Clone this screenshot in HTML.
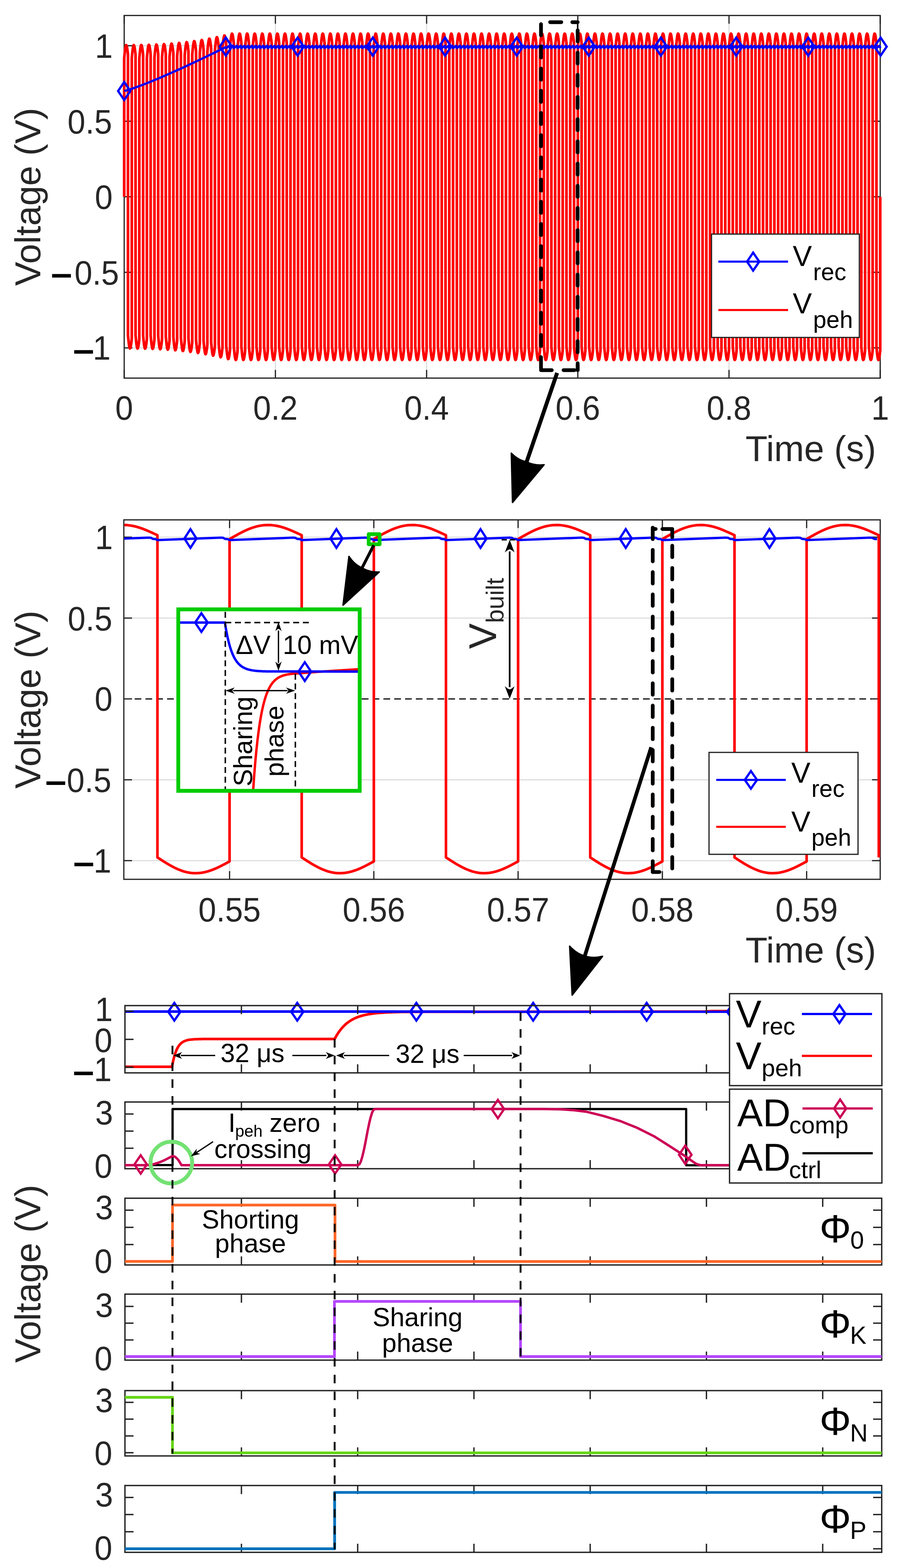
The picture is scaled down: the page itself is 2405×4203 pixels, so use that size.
<!DOCTYPE html><html><head><meta charset="utf-8"><style>html,body{margin:0;padding:0;background:#fff;overflow:hidden;}svg{display:block;}text{font-family:'Liberation Sans', Arial, Helvetica, sans-serif;}</style></head><body>
<svg width="2405" height="4203" viewBox="0 0 2405 4203">
<rect width="2405" height="4203" fill="#fff"/>
<line x1="738.4" y1="41.5" x2="738.4" y2="1013.5" stroke="#dcdcdc" stroke-width="3"/>
<line x1="1143.8" y1="41.5" x2="1143.8" y2="1013.5" stroke="#dcdcdc" stroke-width="3"/>
<line x1="1549.2" y1="41.5" x2="1549.2" y2="1013.5" stroke="#dcdcdc" stroke-width="3"/>
<line x1="1954.6" y1="41.5" x2="1954.6" y2="1013.5" stroke="#dcdcdc" stroke-width="3"/>
<line x1="333" y1="932.5" x2="2360" y2="932.5" stroke="#dcdcdc" stroke-width="3"/>
<line x1="333" y1="730" x2="2360" y2="730" stroke="#dcdcdc" stroke-width="3"/>
<line x1="333" y1="527.5" x2="2360" y2="527.5" stroke="#dcdcdc" stroke-width="3"/>
<line x1="333" y1="325" x2="2360" y2="325" stroke="#dcdcdc" stroke-width="3"/>
<line x1="333" y1="122.5" x2="2360" y2="122.5" stroke="#dcdcdc" stroke-width="3"/>
<rect x="333" y="41.5" width="2027" height="972" fill="none" stroke="#262626" stroke-width="3.3"/>
<line x1="333" y1="1013.5" x2="333" y2="991.5" stroke="#262626" stroke-width="3.3"/>
<line x1="333" y1="41.5" x2="333" y2="63.5" stroke="#262626" stroke-width="3.3"/>
<line x1="738.4" y1="1013.5" x2="738.4" y2="991.5" stroke="#262626" stroke-width="3.3"/>
<line x1="738.4" y1="41.5" x2="738.4" y2="63.5" stroke="#262626" stroke-width="3.3"/>
<line x1="1143.8" y1="1013.5" x2="1143.8" y2="991.5" stroke="#262626" stroke-width="3.3"/>
<line x1="1143.8" y1="41.5" x2="1143.8" y2="63.5" stroke="#262626" stroke-width="3.3"/>
<line x1="1549.2" y1="1013.5" x2="1549.2" y2="991.5" stroke="#262626" stroke-width="3.3"/>
<line x1="1549.2" y1="41.5" x2="1549.2" y2="63.5" stroke="#262626" stroke-width="3.3"/>
<line x1="1954.6" y1="1013.5" x2="1954.6" y2="991.5" stroke="#262626" stroke-width="3.3"/>
<line x1="1954.6" y1="41.5" x2="1954.6" y2="63.5" stroke="#262626" stroke-width="3.3"/>
<line x1="2360" y1="1013.5" x2="2360" y2="991.5" stroke="#262626" stroke-width="3.3"/>
<line x1="2360" y1="41.5" x2="2360" y2="63.5" stroke="#262626" stroke-width="3.3"/>
<line x1="333" y1="932.5" x2="355" y2="932.5" stroke="#262626" stroke-width="3.3"/>
<line x1="2360" y1="932.5" x2="2338" y2="932.5" stroke="#262626" stroke-width="3.3"/>
<line x1="333" y1="730" x2="355" y2="730" stroke="#262626" stroke-width="3.3"/>
<line x1="2360" y1="730" x2="2338" y2="730" stroke="#262626" stroke-width="3.3"/>
<line x1="333" y1="527.5" x2="355" y2="527.5" stroke="#262626" stroke-width="3.3"/>
<line x1="2360" y1="527.5" x2="2338" y2="527.5" stroke="#262626" stroke-width="3.3"/>
<line x1="333" y1="325" x2="355" y2="325" stroke="#262626" stroke-width="3.3"/>
<line x1="2360" y1="325" x2="2338" y2="325" stroke="#262626" stroke-width="3.3"/>
<line x1="333" y1="122.5" x2="355" y2="122.5" stroke="#262626" stroke-width="3.3"/>
<line x1="2360" y1="122.5" x2="2338" y2="122.5" stroke="#262626" stroke-width="3.3"/>
<path d="M333 527.5 L333 156.1 L334.3 143.3 L335.5 132.2 L336.8 124.4 L338.1 120.9 L339.3 122 L340.6 127.3 L341.9 136 L343.1 146.4 L343.1 898.9 L344.4 911.7 L345.7 922.8 L346.9 930.6 L348.2 934.1 L349.5 933 L350.7 927.7 L352 919 L353.3 908.6 L353.3 156 L354.5 143.2 L355.8 132.1 L357.1 124.3 L358.3 120.8 L359.6 121.9 L360.9 127.3 L362.1 135.9 L363.4 146.3 L363.4 899 L364.7 911.9 L365.9 923 L367.2 930.8 L368.5 934.3 L369.7 933.2 L371 927.8 L372.3 919.2 L373.5 908.8 L373.5 155.8 L374.8 143 L376.1 131.9 L377.3 124.1 L378.6 120.6 L379.9 121.7 L381.1 127 L382.4 135.7 L383.7 146.1 L383.7 899.4 L384.9 912.2 L386.2 923.3 L387.5 931.1 L388.7 934.6 L390 933.5 L391.3 928.2 L392.5 919.5 L393.8 909.1 L393.8 155.3 L395.1 142.5 L396.3 131.4 L397.6 123.6 L398.9 120.1 L400.1 121.2 L401.4 126.6 L402.7 135.2 L403.9 145.6 L403.9 900 L405.2 912.8 L406.5 923.9 L407.7 931.7 L409 935.2 L410.3 934.1 L411.5 928.8 L412.8 920.1 L414.1 909.7 L414.1 154.6 L415.3 141.8 L416.6 130.7 L417.9 122.9 L419.1 119.4 L420.4 120.5 L421.7 125.8 L422.9 134.5 L424.2 144.9 L424.2 900.9 L425.5 913.7 L426.7 924.8 L428 932.6 L429.3 936.1 L430.5 935 L431.8 929.6 L433.1 921 L434.4 910.6 L434.4 153.6 L435.6 140.7 L436.9 129.6 L438.2 121.8 L439.4 118.3 L440.7 119.4 L442 124.8 L443.2 133.4 L444.5 143.8 L444.5 902.1 L445.8 914.9 L447 926 L448.3 933.8 L449.6 937.3 L450.8 936.2 L452.1 930.9 L453.4 922.2 L454.6 911.8 L454.6 152.2 L455.9 139.3 L457.2 128.3 L458.4 120.5 L459.7 116.9 L461 118 L462.2 123.4 L463.5 132 L464.8 142.4 L464.8 903.7 L466 916.5 L467.3 927.6 L468.6 935.4 L469.8 938.9 L471.1 937.8 L472.4 932.4 L473.6 923.8 L474.9 913.4 L474.9 150.4 L476.2 137.5 L477.4 126.5 L478.7 118.7 L480 115.1 L481.2 116.2 L482.5 121.6 L483.8 130.3 L485 140.7 L485 905.7 L486.3 918.5 L487.6 929.6 L488.8 937.4 L490.1 940.9 L491.4 939.8 L492.6 934.4 L493.9 925.8 L495.2 915.4 L495.2 148.2 L496.4 135.4 L497.7 124.3 L499 116.5 L500.2 113 L501.5 114.1 L502.8 119.4 L504 128.1 L505.3 138.5 L505.3 908.1 L506.6 920.9 L507.8 932 L509.1 939.8 L510.4 943.3 L511.6 942.2 L512.9 936.8 L514.2 928.2 L515.4 917.8 L515.4 145.6 L516.7 132.7 L518 121.7 L519.2 113.9 L520.5 110.3 L521.8 111.4 L523 116.8 L524.3 125.4 L525.6 135.9 L525.6 910.9 L526.8 923.7 L528.1 934.8 L529.4 942.6 L530.6 946.1 L531.9 945 L533.2 939.7 L534.4 931 L535.7 920.6 L535.7 142.5 L537 129.7 L538.2 118.6 L539.5 110.8 L540.8 107.3 L542 108.4 L543.3 113.7 L544.6 122.4 L545.8 132.8 L545.8 914.2 L547.1 927.1 L548.4 938.1 L549.6 945.9 L550.9 949.5 L552.2 948.4 L553.4 943 L554.7 934.4 L556 924 L556 138.9 L557.2 126.1 L558.5 115 L559.8 107.2 L561 103.7 L562.3 104.8 L563.6 110.2 L564.8 118.8 L566.1 129.2 L566.1 918.1 L567.4 930.9 L568.6 942 L569.9 949.8 L571.2 953.3 L572.4 952.2 L573.7 946.8 L575 938.2 L576.2 927.8 L576.2 134.8 L577.5 122 L578.8 110.9 L580 103.1 L581.3 99.6 L582.6 100.7 L583.8 106.1 L585.1 114.7 L586.4 125.1 L586.4 922.4 L587.6 935.2 L588.9 946.3 L590.2 954.1 L591.4 957.6 L592.7 956.5 L594 951.2 L595.2 942.5 L596.5 932.1 L596.5 130.2 L597.8 117.4 L599 106.3 L600.3 98.5 L601.6 95 L602.8 96.1 L604.1 101.5 L605.4 110.1 L606.6 120.5 L606.6 927.3 L607.9 940.1 L609.2 951.2 L610.4 959 L611.7 962.5 L613 961.4 L614.2 956.1 L615.5 947.4 L616.8 937 L616.8 125.3 L618 112.5 L619.3 101.4 L620.6 93.6 L621.8 90.1 L623.1 91.2 L624.4 96.6 L625.6 105.2 L626.9 115.6 L626.9 929.7 L628.2 942.5 L629.4 953.6 L630.7 961.4 L632 964.9 L633.2 963.8 L634.5 958.4 L635.8 949.8 L637 939.4 L637 125.3 L638.3 112.5 L639.6 101.4 L640.9 93.6 L642.1 90.1 L643.4 91.2 L644.7 96.6 L645.9 105.2 L647.2 115.6 L647.2 929.7 L648.5 942.5 L649.7 953.6 L651 961.4 L652.3 964.9 L653.5 963.8 L654.8 958.4 L656.1 949.8 L657.3 939.4 L657.3 125.3 L658.6 112.5 L659.9 101.4 L661.1 93.6 L662.4 90.1 L663.7 91.2 L664.9 96.6 L666.2 105.2 L667.5 115.6 L667.5 929.7 L668.7 942.5 L670 953.6 L671.3 961.4 L672.5 964.9 L673.8 963.8 L675.1 958.4 L676.3 949.8 L677.6 939.4 L677.6 125.3 L678.9 112.5 L680.1 101.4 L681.4 93.6 L682.7 90.1 L683.9 91.2 L685.2 96.6 L686.5 105.2 L687.7 115.6 L687.7 929.7 L689 942.5 L690.3 953.6 L691.5 961.4 L692.8 964.9 L694.1 963.8 L695.3 958.4 L696.6 949.8 L697.9 939.4 L697.9 125.3 L699.1 112.5 L700.4 101.4 L701.7 93.6 L702.9 90.1 L704.2 91.2 L705.5 96.6 L706.7 105.2 L708 115.6 L708 929.7 L709.3 942.5 L710.5 953.6 L711.8 961.4 L713.1 964.9 L714.3 963.8 L715.6 958.4 L716.9 949.8 L718.1 939.4 L718.1 125.3 L719.4 112.5 L720.7 101.4 L721.9 93.6 L723.2 90.1 L724.5 91.2 L725.7 96.6 L727 105.2 L728.3 115.6 L728.3 929.7 L729.5 942.5 L730.8 953.6 L732.1 961.4 L733.3 964.9 L734.6 963.8 L735.9 958.4 L737.1 949.8 L738.4 939.4 L738.4 125.3 L739.7 112.5 L740.9 101.4 L742.2 93.6 L743.5 90.1 L744.7 91.2 L746 96.6 L747.3 105.2 L748.5 115.6 L748.5 929.7 L749.8 942.5 L751.1 953.6 L752.3 961.4 L753.6 964.9 L754.9 963.8 L756.1 958.4 L757.4 949.8 L758.7 939.4 L758.7 125.3 L759.9 112.5 L761.2 101.4 L762.5 93.6 L763.7 90.1 L765 91.2 L766.3 96.6 L767.5 105.2 L768.8 115.6 L768.8 929.7 L770.1 942.5 L771.3 953.6 L772.6 961.4 L773.9 964.9 L775.1 963.8 L776.4 958.4 L777.7 949.8 L778.9 939.4 L778.9 125.3 L780.2 112.5 L781.5 101.4 L782.7 93.6 L784 90.1 L785.3 91.2 L786.5 96.6 L787.8 105.2 L789.1 115.6 L789.1 929.7 L790.3 942.5 L791.6 953.6 L792.9 961.4 L794.1 964.9 L795.4 963.8 L796.7 958.4 L797.9 949.8 L799.2 939.4 L799.2 125.3 L800.5 112.5 L801.7 101.4 L803 93.6 L804.3 90.1 L805.5 91.2 L806.8 96.6 L808.1 105.2 L809.3 115.6 L809.3 929.7 L810.6 942.5 L811.9 953.6 L813.1 961.4 L814.4 964.9 L815.7 963.8 L816.9 958.4 L818.2 949.8 L819.5 939.4 L819.5 125.3 L820.7 112.5 L822 101.4 L823.3 93.6 L824.5 90.1 L825.8 91.2 L827.1 96.6 L828.3 105.2 L829.6 115.6 L829.6 929.7 L830.9 942.5 L832.1 953.6 L833.4 961.4 L834.7 964.9 L835.9 963.8 L837.2 958.4 L838.5 949.8 L839.8 939.4 L839.8 125.3 L841 112.5 L842.3 101.4 L843.6 93.6 L844.8 90.1 L846.1 91.2 L847.4 96.6 L848.6 105.2 L849.9 115.6 L849.9 929.7 L851.2 942.5 L852.4 953.6 L853.7 961.4 L855 964.9 L856.2 963.8 L857.5 958.4 L858.8 949.8 L860 939.4 L860 125.3 L861.3 112.5 L862.6 101.4 L863.8 93.6 L865.1 90.1 L866.4 91.2 L867.6 96.6 L868.9 105.2 L870.2 115.6 L870.2 929.7 L871.4 942.5 L872.7 953.6 L874 961.4 L875.2 964.9 L876.5 963.8 L877.8 958.4 L879 949.8 L880.3 939.4 L880.3 125.3 L881.6 112.5 L882.8 101.4 L884.1 93.6 L885.4 90.1 L886.6 91.2 L887.9 96.6 L889.2 105.2 L890.4 115.6 L890.4 929.7 L891.7 942.5 L893 953.6 L894.2 961.4 L895.5 964.9 L896.8 963.8 L898 958.4 L899.3 949.8 L900.6 939.4 L900.6 125.3 L901.8 112.5 L903.1 101.4 L904.4 93.6 L905.6 90.1 L906.9 91.2 L908.2 96.6 L909.4 105.2 L910.7 115.6 L910.7 929.7 L912 942.5 L913.2 953.6 L914.5 961.4 L915.8 964.9 L917 963.8 L918.3 958.4 L919.6 949.8 L920.8 939.4 L920.8 125.3 L922.1 112.5 L923.4 101.4 L924.6 93.6 L925.9 90.1 L927.2 91.2 L928.4 96.6 L929.7 105.2 L931 115.6 L931 929.7 L932.2 942.5 L933.5 953.6 L934.8 961.4 L936 964.9 L937.3 963.8 L938.6 958.4 L939.8 949.8 L941.1 939.4 L941.1 125.3 L942.4 112.5 L943.6 101.4 L944.9 93.6 L946.2 90.1 L947.4 91.2 L948.7 96.6 L950 105.2 L951.2 115.6 L951.2 929.7 L952.5 942.5 L953.8 953.6 L955 961.4 L956.3 964.9 L957.6 963.8 L958.8 958.4 L960.1 949.8 L961.4 939.4 L961.4 125.3 L962.6 112.5 L963.9 101.4 L965.2 93.6 L966.4 90.1 L967.7 91.2 L969 96.6 L970.2 105.2 L971.5 115.6 L971.5 929.7 L972.8 942.5 L974 953.6 L975.3 961.4 L976.6 964.9 L977.8 963.8 L979.1 958.4 L980.4 949.8 L981.6 939.4 L981.6 125.3 L982.9 112.5 L984.2 101.4 L985.4 93.6 L986.7 90.1 L988 91.2 L989.2 96.6 L990.5 105.2 L991.8 115.6 L991.8 929.7 L993 942.5 L994.3 953.6 L995.6 961.4 L996.8 964.9 L998.1 963.8 L999.4 958.4 L1000.6 949.8 L1001.9 939.4 L1001.9 125.3 L1003.2 112.5 L1004.4 101.4 L1005.7 93.6 L1007 90.1 L1008.2 91.2 L1009.5 96.6 L1010.8 105.2 L1012 115.6 L1012 929.7 L1013.3 942.5 L1014.6 953.6 L1015.8 961.4 L1017.1 964.9 L1018.4 963.8 L1019.6 958.4 L1020.9 949.8 L1022.2 939.4 L1022.2 125.3 L1023.4 112.5 L1024.7 101.4 L1026 93.6 L1027.2 90.1 L1028.5 91.2 L1029.8 96.6 L1031 105.2 L1032.3 115.6 L1032.3 929.7 L1033.6 942.5 L1034.8 953.6 L1036.1 961.4 L1037.4 964.9 L1038.6 963.8 L1039.9 958.4 L1041.2 949.8 L1042.5 939.4 L1042.5 125.3 L1043.7 112.5 L1045 101.4 L1046.3 93.6 L1047.5 90.1 L1048.8 91.2 L1050.1 96.6 L1051.3 105.2 L1052.6 115.6 L1052.6 929.7 L1053.9 942.5 L1055.1 953.6 L1056.4 961.4 L1057.7 964.9 L1058.9 963.8 L1060.2 958.4 L1061.5 949.8 L1062.7 939.4 L1062.7 125.3 L1064 112.5 L1065.3 101.4 L1066.5 93.6 L1067.8 90.1 L1069.1 91.2 L1070.3 96.6 L1071.6 105.2 L1072.9 115.6 L1072.9 929.7 L1074.1 942.5 L1075.4 953.6 L1076.7 961.4 L1077.9 964.9 L1079.2 963.8 L1080.5 958.4 L1081.7 949.8 L1083 939.4 L1083 125.3 L1084.3 112.5 L1085.5 101.4 L1086.8 93.6 L1088.1 90.1 L1089.3 91.2 L1090.6 96.6 L1091.9 105.2 L1093.1 115.6 L1093.1 929.7 L1094.4 942.5 L1095.7 953.6 L1096.9 961.4 L1098.2 964.9 L1099.5 963.8 L1100.7 958.4 L1102 949.8 L1103.3 939.4 L1103.3 125.3 L1104.5 112.5 L1105.8 101.4 L1107.1 93.6 L1108.3 90.1 L1109.6 91.2 L1110.9 96.6 L1112.1 105.2 L1113.4 115.6 L1113.4 929.7 L1114.7 942.5 L1115.9 953.6 L1117.2 961.4 L1118.5 964.9 L1119.7 963.8 L1121 958.4 L1122.3 949.8 L1123.5 939.4 L1123.5 125.3 L1124.8 112.5 L1126.1 101.4 L1127.3 93.6 L1128.6 90.1 L1129.9 91.2 L1131.1 96.6 L1132.4 105.2 L1133.7 115.6 L1133.7 929.7 L1134.9 942.5 L1136.2 953.6 L1137.5 961.4 L1138.7 964.9 L1140 963.8 L1141.3 958.4 L1142.5 949.8 L1143.8 939.4 L1143.8 125.3 L1145.1 112.5 L1146.3 101.4 L1147.6 93.6 L1148.9 90.1 L1150.1 91.2 L1151.4 96.6 L1152.7 105.2 L1153.9 115.6 L1153.9 929.7 L1155.2 942.5 L1156.5 953.6 L1157.7 961.4 L1159 964.9 L1160.3 963.8 L1161.5 958.4 L1162.8 949.8 L1164.1 939.4 L1164.1 125.3 L1165.3 112.5 L1166.6 101.4 L1167.9 93.6 L1169.1 90.1 L1170.4 91.2 L1171.7 96.6 L1172.9 105.2 L1174.2 115.6 L1174.2 929.7 L1175.5 942.5 L1176.7 953.6 L1178 961.4 L1179.3 964.9 L1180.5 963.8 L1181.8 958.4 L1183.1 949.8 L1184.3 939.4 L1184.3 125.3 L1185.6 112.5 L1186.9 101.4 L1188.1 93.6 L1189.4 90.1 L1190.7 91.2 L1191.9 96.6 L1193.2 105.2 L1194.5 115.6 L1194.5 929.7 L1195.7 942.5 L1197 953.6 L1198.3 961.4 L1199.5 964.9 L1200.8 963.8 L1202.1 958.4 L1203.3 949.8 L1204.6 939.4 L1204.6 125.3 L1205.9 112.5 L1207.1 101.4 L1208.4 93.6 L1209.7 90.1 L1210.9 91.2 L1212.2 96.6 L1213.5 105.2 L1214.7 115.6 L1214.7 929.7 L1216 942.5 L1217.3 953.6 L1218.5 961.4 L1219.8 964.9 L1221.1 963.8 L1222.3 958.4 L1223.6 949.8 L1224.9 939.4 L1224.9 125.3 L1226.1 112.5 L1227.4 101.4 L1228.7 93.6 L1229.9 90.1 L1231.2 91.2 L1232.5 96.6 L1233.7 105.2 L1235 115.6 L1235 929.7 L1236.3 942.5 L1237.5 953.6 L1238.8 961.4 L1240.1 964.9 L1241.3 963.8 L1242.6 958.4 L1243.9 949.8 L1245.2 939.4 L1245.2 125.3 L1246.4 112.5 L1247.7 101.4 L1249 93.6 L1250.2 90.1 L1251.5 91.2 L1252.8 96.6 L1254 105.2 L1255.3 115.6 L1255.3 929.7 L1256.6 942.5 L1257.8 953.6 L1259.1 961.4 L1260.4 964.9 L1261.6 963.8 L1262.9 958.4 L1264.2 949.8 L1265.4 939.4 L1265.4 125.3 L1266.7 112.5 L1268 101.4 L1269.2 93.6 L1270.5 90.1 L1271.8 91.2 L1273 96.6 L1274.3 105.2 L1275.6 115.6 L1275.6 929.7 L1276.8 942.5 L1278.1 953.6 L1279.4 961.4 L1280.6 964.9 L1281.9 963.8 L1283.2 958.4 L1284.4 949.8 L1285.7 939.4 L1285.7 125.3 L1287 112.5 L1288.2 101.4 L1289.5 93.6 L1290.8 90.1 L1292 91.2 L1293.3 96.6 L1294.6 105.2 L1295.8 115.6 L1295.8 929.7 L1297.1 942.5 L1298.4 953.6 L1299.6 961.4 L1300.9 964.9 L1302.2 963.8 L1303.4 958.4 L1304.7 949.8 L1306 939.4 L1306 125.3 L1307.2 112.5 L1308.5 101.4 L1309.8 93.6 L1311 90.1 L1312.3 91.2 L1313.6 96.6 L1314.8 105.2 L1316.1 115.6 L1316.1 929.7 L1317.4 942.5 L1318.6 953.6 L1319.9 961.4 L1321.2 964.9 L1322.4 963.8 L1323.7 958.4 L1325 949.8 L1326.2 939.4 L1326.2 125.3 L1327.5 112.5 L1328.8 101.4 L1330 93.6 L1331.3 90.1 L1332.6 91.2 L1333.8 96.6 L1335.1 105.2 L1336.4 115.6 L1336.4 929.7 L1337.6 942.5 L1338.9 953.6 L1340.2 961.4 L1341.4 964.9 L1342.7 963.8 L1344 958.4 L1345.2 949.8 L1346.5 939.4 L1346.5 125.3 L1347.8 112.5 L1349 101.4 L1350.3 93.6 L1351.6 90.1 L1352.8 91.2 L1354.1 96.6 L1355.4 105.2 L1356.6 115.6 L1356.6 929.7 L1357.9 942.5 L1359.2 953.6 L1360.4 961.4 L1361.7 964.9 L1363 963.8 L1364.2 958.4 L1365.5 949.8 L1366.8 939.4 L1366.8 125.3 L1368 112.5 L1369.3 101.4 L1370.6 93.6 L1371.8 90.1 L1373.1 91.2 L1374.4 96.6 L1375.6 105.2 L1376.9 115.6 L1376.9 929.7 L1378.2 942.5 L1379.4 953.6 L1380.7 961.4 L1382 964.9 L1383.2 963.8 L1384.5 958.4 L1385.8 949.8 L1387 939.4 L1387 125.3 L1388.3 112.5 L1389.6 101.4 L1390.8 93.6 L1392.1 90.1 L1393.4 91.2 L1394.6 96.6 L1395.9 105.2 L1397.2 115.6 L1397.2 929.7 L1398.4 942.5 L1399.7 953.6 L1401 961.4 L1402.2 964.9 L1403.5 963.8 L1404.8 958.4 L1406 949.8 L1407.3 939.4 L1407.3 125.3 L1408.6 112.5 L1409.8 101.4 L1411.1 93.6 L1412.4 90.1 L1413.6 91.2 L1414.9 96.6 L1416.2 105.2 L1417.4 115.6 L1417.4 929.7 L1418.7 942.5 L1420 953.6 L1421.2 961.4 L1422.5 964.9 L1423.8 963.8 L1425 958.4 L1426.3 949.8 L1427.6 939.4 L1427.6 125.3 L1428.8 112.5 L1430.1 101.4 L1431.4 93.6 L1432.6 90.1 L1433.9 91.2 L1435.2 96.6 L1436.4 105.2 L1437.7 115.6 L1437.7 929.7 L1439 942.5 L1440.2 953.6 L1441.5 961.4 L1442.8 964.9 L1444 963.8 L1445.3 958.4 L1446.6 949.8 L1447.9 939.4 L1447.9 125.3 L1449.1 112.5 L1450.4 101.4 L1451.7 93.6 L1452.9 90.1 L1454.2 91.2 L1455.5 96.6 L1456.7 105.2 L1458 115.6 L1458 929.7 L1459.3 942.5 L1460.5 953.6 L1461.8 961.4 L1463.1 964.9 L1464.3 963.8 L1465.6 958.4 L1466.9 949.8 L1468.1 939.4 L1468.1 125.3 L1469.4 112.5 L1470.7 101.4 L1471.9 93.6 L1473.2 90.1 L1474.5 91.2 L1475.7 96.6 L1477 105.2 L1478.3 115.6 L1478.3 929.7 L1479.5 942.5 L1480.8 953.6 L1482.1 961.4 L1483.3 964.9 L1484.6 963.8 L1485.9 958.4 L1487.1 949.8 L1488.4 939.4 L1488.4 125.3 L1489.7 112.5 L1490.9 101.4 L1492.2 93.6 L1493.5 90.1 L1494.7 91.2 L1496 96.6 L1497.3 105.2 L1498.5 115.6 L1498.5 929.7 L1499.8 942.5 L1501.1 953.6 L1502.3 961.4 L1503.6 964.9 L1504.9 963.8 L1506.1 958.4 L1507.4 949.8 L1508.7 939.4 L1508.7 125.3 L1509.9 112.5 L1511.2 101.4 L1512.5 93.6 L1513.7 90.1 L1515 91.2 L1516.3 96.6 L1517.5 105.2 L1518.8 115.6 L1518.8 929.7 L1520.1 942.5 L1521.3 953.6 L1522.6 961.4 L1523.9 964.9 L1525.1 963.8 L1526.4 958.4 L1527.7 949.8 L1528.9 939.4 L1528.9 125.3 L1530.2 112.5 L1531.5 101.4 L1532.7 93.6 L1534 90.1 L1535.3 91.2 L1536.5 96.6 L1537.8 105.2 L1539.1 115.6 L1539.1 929.7 L1540.3 942.5 L1541.6 953.6 L1542.9 961.4 L1544.1 964.9 L1545.4 963.8 L1546.7 958.4 L1547.9 949.8 L1549.2 939.4 L1549.2 125.3 L1550.5 112.5 L1551.7 101.4 L1553 93.6 L1554.3 90.1 L1555.5 91.2 L1556.8 96.6 L1558.1 105.2 L1559.3 115.6 L1559.3 929.7 L1560.6 942.5 L1561.9 953.6 L1563.1 961.4 L1564.4 964.9 L1565.7 963.8 L1566.9 958.4 L1568.2 949.8 L1569.5 939.4 L1569.5 125.3 L1570.7 112.5 L1572 101.4 L1573.3 93.6 L1574.5 90.1 L1575.8 91.2 L1577.1 96.6 L1578.3 105.2 L1579.6 115.6 L1579.6 929.7 L1580.9 942.5 L1582.1 953.6 L1583.4 961.4 L1584.7 964.9 L1585.9 963.8 L1587.2 958.4 L1588.5 949.8 L1589.7 939.4 L1589.7 125.3 L1591 112.5 L1592.3 101.4 L1593.5 93.6 L1594.8 90.1 L1596.1 91.2 L1597.3 96.6 L1598.6 105.2 L1599.9 115.6 L1599.9 929.7 L1601.1 942.5 L1602.4 953.6 L1603.7 961.4 L1604.9 964.9 L1606.2 963.8 L1607.5 958.4 L1608.7 949.8 L1610 939.4 L1610 125.3 L1611.3 112.5 L1612.5 101.4 L1613.8 93.6 L1615.1 90.1 L1616.3 91.2 L1617.6 96.6 L1618.9 105.2 L1620.1 115.6 L1620.1 929.7 L1621.4 942.5 L1622.7 953.6 L1623.9 961.4 L1625.2 964.9 L1626.5 963.8 L1627.7 958.4 L1629 949.8 L1630.3 939.4 L1630.3 125.3 L1631.5 112.5 L1632.8 101.4 L1634.1 93.6 L1635.3 90.1 L1636.6 91.2 L1637.9 96.6 L1639.1 105.2 L1640.4 115.6 L1640.4 929.7 L1641.7 942.5 L1642.9 953.6 L1644.2 961.4 L1645.5 964.9 L1646.7 963.8 L1648 958.4 L1649.3 949.8 L1650.5 939.4 L1650.5 125.3 L1651.8 112.5 L1653.1 101.4 L1654.4 93.6 L1655.6 90.1 L1656.9 91.2 L1658.2 96.6 L1659.4 105.2 L1660.7 115.6 L1660.7 929.7 L1662 942.5 L1663.2 953.6 L1664.5 961.4 L1665.8 964.9 L1667 963.8 L1668.3 958.4 L1669.6 949.8 L1670.8 939.4 L1670.8 125.3 L1672.1 112.5 L1673.4 101.4 L1674.6 93.6 L1675.9 90.1 L1677.2 91.2 L1678.4 96.6 L1679.7 105.2 L1681 115.6 L1681 929.7 L1682.2 942.5 L1683.5 953.6 L1684.8 961.4 L1686 964.9 L1687.3 963.8 L1688.6 958.4 L1689.8 949.8 L1691.1 939.4 L1691.1 125.3 L1692.4 112.5 L1693.6 101.4 L1694.9 93.6 L1696.2 90.1 L1697.4 91.2 L1698.7 96.6 L1700 105.2 L1701.2 115.6 L1701.2 929.7 L1702.5 942.5 L1703.8 953.6 L1705 961.4 L1706.3 964.9 L1707.6 963.8 L1708.8 958.4 L1710.1 949.8 L1711.4 939.4 L1711.4 125.3 L1712.6 112.5 L1713.9 101.4 L1715.2 93.6 L1716.4 90.1 L1717.7 91.2 L1719 96.6 L1720.2 105.2 L1721.5 115.6 L1721.5 929.7 L1722.8 942.5 L1724 953.6 L1725.3 961.4 L1726.6 964.9 L1727.8 963.8 L1729.1 958.4 L1730.4 949.8 L1731.6 939.4 L1731.6 125.3 L1732.9 112.5 L1734.2 101.4 L1735.4 93.6 L1736.7 90.1 L1738 91.2 L1739.2 96.6 L1740.5 105.2 L1741.8 115.6 L1741.8 929.7 L1743 942.5 L1744.3 953.6 L1745.6 961.4 L1746.8 964.9 L1748.1 963.8 L1749.4 958.4 L1750.6 949.8 L1751.9 939.4 L1751.9 125.3 L1753.2 112.5 L1754.4 101.4 L1755.7 93.6 L1757 90.1 L1758.2 91.2 L1759.5 96.6 L1760.8 105.2 L1762 115.6 L1762 929.7 L1763.3 942.5 L1764.6 953.6 L1765.8 961.4 L1767.1 964.9 L1768.4 963.8 L1769.6 958.4 L1770.9 949.8 L1772.2 939.4 L1772.2 125.3 L1773.4 112.5 L1774.7 101.4 L1776 93.6 L1777.2 90.1 L1778.5 91.2 L1779.8 96.6 L1781 105.2 L1782.3 115.6 L1782.3 929.7 L1783.6 942.5 L1784.8 953.6 L1786.1 961.4 L1787.4 964.9 L1788.6 963.8 L1789.9 958.4 L1791.2 949.8 L1792.4 939.4 L1792.4 125.3 L1793.7 112.5 L1795 101.4 L1796.2 93.6 L1797.5 90.1 L1798.8 91.2 L1800 96.6 L1801.3 105.2 L1802.6 115.6 L1802.6 929.7 L1803.8 942.5 L1805.1 953.6 L1806.4 961.4 L1807.6 964.9 L1808.9 963.8 L1810.2 958.4 L1811.4 949.8 L1812.7 939.4 L1812.7 125.3 L1814 112.5 L1815.2 101.4 L1816.5 93.6 L1817.8 90.1 L1819 91.2 L1820.3 96.6 L1821.6 105.2 L1822.8 115.6 L1822.8 929.7 L1824.1 942.5 L1825.4 953.6 L1826.6 961.4 L1827.9 964.9 L1829.2 963.8 L1830.4 958.4 L1831.7 949.8 L1833 939.4 L1833 125.3 L1834.2 112.5 L1835.5 101.4 L1836.8 93.6 L1838 90.1 L1839.3 91.2 L1840.6 96.6 L1841.8 105.2 L1843.1 115.6 L1843.1 929.7 L1844.4 942.5 L1845.6 953.6 L1846.9 961.4 L1848.2 964.9 L1849.4 963.8 L1850.7 958.4 L1852 949.8 L1853.2 939.4 L1853.2 125.3 L1854.5 112.5 L1855.8 101.4 L1857.1 93.6 L1858.3 90.1 L1859.6 91.2 L1860.9 96.6 L1862.1 105.2 L1863.4 115.6 L1863.4 929.7 L1864.7 942.5 L1865.9 953.6 L1867.2 961.4 L1868.5 964.9 L1869.7 963.8 L1871 958.4 L1872.3 949.8 L1873.5 939.4 L1873.5 125.3 L1874.8 112.5 L1876.1 101.4 L1877.3 93.6 L1878.6 90.1 L1879.9 91.2 L1881.1 96.6 L1882.4 105.2 L1883.7 115.6 L1883.7 929.7 L1884.9 942.5 L1886.2 953.6 L1887.5 961.4 L1888.7 964.9 L1890 963.8 L1891.3 958.4 L1892.5 949.8 L1893.8 939.4 L1893.8 125.3 L1895.1 112.5 L1896.3 101.4 L1897.6 93.6 L1898.9 90.1 L1900.1 91.2 L1901.4 96.6 L1902.7 105.2 L1903.9 115.6 L1903.9 929.7 L1905.2 942.5 L1906.5 953.6 L1907.7 961.4 L1909 964.9 L1910.3 963.8 L1911.5 958.4 L1912.8 949.8 L1914.1 939.4 L1914.1 125.3 L1915.3 112.5 L1916.6 101.4 L1917.9 93.6 L1919.1 90.1 L1920.4 91.2 L1921.7 96.6 L1922.9 105.2 L1924.2 115.6 L1924.2 929.7 L1925.5 942.5 L1926.7 953.6 L1928 961.4 L1929.3 964.9 L1930.5 963.8 L1931.8 958.4 L1933.1 949.8 L1934.3 939.4 L1934.3 125.3 L1935.6 112.5 L1936.9 101.4 L1938.1 93.6 L1939.4 90.1 L1940.7 91.2 L1941.9 96.6 L1943.2 105.2 L1944.5 115.6 L1944.5 929.7 L1945.7 942.5 L1947 953.6 L1948.3 961.4 L1949.5 964.9 L1950.8 963.8 L1952.1 958.4 L1953.3 949.8 L1954.6 939.4 L1954.6 125.3 L1955.9 112.5 L1957.1 101.4 L1958.4 93.6 L1959.7 90.1 L1960.9 91.2 L1962.2 96.6 L1963.5 105.2 L1964.7 115.6 L1964.7 929.7 L1966 942.5 L1967.3 953.6 L1968.5 961.4 L1969.8 964.9 L1971.1 963.8 L1972.3 958.4 L1973.6 949.8 L1974.9 939.4 L1974.9 125.3 L1976.1 112.5 L1977.4 101.4 L1978.7 93.6 L1979.9 90.1 L1981.2 91.2 L1982.5 96.6 L1983.7 105.2 L1985 115.6 L1985 929.7 L1986.3 942.5 L1987.5 953.6 L1988.8 961.4 L1990.1 964.9 L1991.3 963.8 L1992.6 958.4 L1993.9 949.8 L1995.1 939.4 L1995.1 125.3 L1996.4 112.5 L1997.7 101.4 L1998.9 93.6 L2000.2 90.1 L2001.5 91.2 L2002.7 96.6 L2004 105.2 L2005.3 115.6 L2005.3 929.7 L2006.5 942.5 L2007.8 953.6 L2009.1 961.4 L2010.3 964.9 L2011.6 963.8 L2012.9 958.4 L2014.1 949.8 L2015.4 939.4 L2015.4 125.3 L2016.7 112.5 L2017.9 101.4 L2019.2 93.6 L2020.5 90.1 L2021.7 91.2 L2023 96.6 L2024.3 105.2 L2025.5 115.6 L2025.5 929.7 L2026.8 942.5 L2028.1 953.6 L2029.3 961.4 L2030.6 964.9 L2031.9 963.8 L2033.1 958.4 L2034.4 949.8 L2035.7 939.4 L2035.7 125.3 L2036.9 112.5 L2038.2 101.4 L2039.5 93.6 L2040.7 90.1 L2042 91.2 L2043.3 96.6 L2044.5 105.2 L2045.8 115.6 L2045.8 929.7 L2047.1 942.5 L2048.3 953.6 L2049.6 961.4 L2050.9 964.9 L2052.1 963.8 L2053.4 958.4 L2054.7 949.8 L2055.9 939.4 L2055.9 125.3 L2057.2 112.5 L2058.5 101.4 L2059.8 93.6 L2061 90.1 L2062.3 91.2 L2063.6 96.6 L2064.8 105.2 L2066.1 115.6 L2066.1 929.7 L2067.4 942.5 L2068.6 953.6 L2069.9 961.4 L2071.2 964.9 L2072.4 963.8 L2073.7 958.4 L2075 949.8 L2076.2 939.4 L2076.2 125.3 L2077.5 112.5 L2078.8 101.4 L2080 93.6 L2081.3 90.1 L2082.6 91.2 L2083.8 96.6 L2085.1 105.2 L2086.4 115.6 L2086.4 929.7 L2087.6 942.5 L2088.9 953.6 L2090.2 961.4 L2091.4 964.9 L2092.7 963.8 L2094 958.4 L2095.2 949.8 L2096.5 939.4 L2096.5 125.3 L2097.8 112.5 L2099 101.4 L2100.3 93.6 L2101.6 90.1 L2102.8 91.2 L2104.1 96.6 L2105.4 105.2 L2106.6 115.6 L2106.6 929.7 L2107.9 942.5 L2109.2 953.6 L2110.4 961.4 L2111.7 964.9 L2113 963.8 L2114.2 958.4 L2115.5 949.8 L2116.8 939.4 L2116.8 125.3 L2118 112.5 L2119.3 101.4 L2120.6 93.6 L2121.8 90.1 L2123.1 91.2 L2124.4 96.6 L2125.6 105.2 L2126.9 115.6 L2126.9 929.7 L2128.2 942.5 L2129.4 953.6 L2130.7 961.4 L2132 964.9 L2133.2 963.8 L2134.5 958.4 L2135.8 949.8 L2137 939.4 L2137 125.3 L2138.3 112.5 L2139.6 101.4 L2140.8 93.6 L2142.1 90.1 L2143.4 91.2 L2144.6 96.6 L2145.9 105.2 L2147.2 115.6 L2147.2 929.7 L2148.4 942.5 L2149.7 953.6 L2151 961.4 L2152.2 964.9 L2153.5 963.8 L2154.8 958.4 L2156 949.8 L2157.3 939.4 L2157.3 125.3 L2158.6 112.5 L2159.8 101.4 L2161.1 93.6 L2162.4 90.1 L2163.6 91.2 L2164.9 96.6 L2166.2 105.2 L2167.4 115.6 L2167.4 929.7 L2168.7 942.5 L2170 953.6 L2171.2 961.4 L2172.5 964.9 L2173.8 963.8 L2175 958.4 L2176.3 949.8 L2177.6 939.4 L2177.6 125.3 L2178.8 112.5 L2180.1 101.4 L2181.4 93.6 L2182.6 90.1 L2183.9 91.2 L2185.2 96.6 L2186.4 105.2 L2187.7 115.6 L2187.7 929.7 L2189 942.5 L2190.2 953.6 L2191.5 961.4 L2192.8 964.9 L2194 963.8 L2195.3 958.4 L2196.6 949.8 L2197.8 939.4 L2197.8 125.3 L2199.1 112.5 L2200.4 101.4 L2201.6 93.6 L2202.9 90.1 L2204.2 91.2 L2205.4 96.6 L2206.7 105.2 L2208 115.6 L2208 929.7 L2209.2 942.5 L2210.5 953.6 L2211.8 961.4 L2213 964.9 L2214.3 963.8 L2215.6 958.4 L2216.8 949.8 L2218.1 939.4 L2218.1 125.3 L2219.4 112.5 L2220.6 101.4 L2221.9 93.6 L2223.2 90.1 L2224.4 91.2 L2225.7 96.6 L2227 105.2 L2228.2 115.6 L2228.2 929.7 L2229.5 942.5 L2230.8 953.6 L2232 961.4 L2233.3 964.9 L2234.6 963.8 L2235.8 958.4 L2237.1 949.8 L2238.4 939.4 L2238.4 125.3 L2239.6 112.5 L2240.9 101.4 L2242.2 93.6 L2243.4 90.1 L2244.7 91.2 L2246 96.6 L2247.2 105.2 L2248.5 115.6 L2248.5 929.7 L2249.8 942.5 L2251 953.6 L2252.3 961.4 L2253.6 964.9 L2254.8 963.8 L2256.1 958.4 L2257.4 949.8 L2258.7 939.4 L2258.7 125.3 L2259.9 112.5 L2261.2 101.4 L2262.5 93.6 L2263.7 90.1 L2265 91.2 L2266.3 96.6 L2267.5 105.2 L2268.8 115.6 L2268.8 929.7 L2270.1 942.5 L2271.3 953.6 L2272.6 961.4 L2273.9 964.9 L2275.1 963.8 L2276.4 958.4 L2277.7 949.8 L2278.9 939.4 L2278.9 125.3 L2280.2 112.5 L2281.5 101.4 L2282.7 93.6 L2284 90.1 L2285.3 91.2 L2286.5 96.6 L2287.8 105.2 L2289.1 115.6 L2289.1 929.7 L2290.3 942.5 L2291.6 953.6 L2292.9 961.4 L2294.1 964.9 L2295.4 963.8 L2296.7 958.4 L2297.9 949.8 L2299.2 939.4 L2299.2 125.3 L2300.5 112.5 L2301.7 101.4 L2303 93.6 L2304.3 90.1 L2305.5 91.2 L2306.8 96.6 L2308.1 105.2 L2309.3 115.6 L2309.3 929.7 L2310.6 942.5 L2311.9 953.6 L2313.1 961.4 L2314.4 964.9 L2315.7 963.8 L2316.9 958.4 L2318.2 949.8 L2319.5 939.4 L2319.5 125.3 L2320.7 112.5 L2322 101.4 L2323.3 93.6 L2324.5 90.1 L2325.8 91.2 L2327.1 96.6 L2328.3 105.2 L2329.6 115.6 L2329.6 929.7 L2330.9 942.5 L2332.1 953.6 L2333.4 961.4 L2334.7 964.9 L2335.9 963.8 L2337.2 958.4 L2338.5 949.8 L2339.7 939.4 L2339.7 125.3 L2341 112.5 L2342.3 101.4 L2343.5 93.6 L2344.8 90.1 L2346.1 91.2 L2347.3 96.6 L2348.6 105.2 L2349.9 115.6 L2349.9 929.7 L2351.1 942.5 L2352.4 953.6 L2353.7 961.4 L2354.9 964.9 L2356.2 963.8 L2357.5 958.4 L2358.7 949.8 L2360 939.4 L2360 527.5" fill="none" stroke="#ff0000" stroke-width="7.2" stroke-linejoin="round"/>
<path d="M333 244 L346.6 240.3 L360.2 235.7 L373.7 230.7 L387.3 225.5 L400.9 220.2 L414.5 214.6 L428.1 208.9 L441.6 203.1 L455.2 197.1 L468.8 191.1 L482.4 184.9 L496 178.7 L509.6 172.4 L523.1 166.1 L536.7 159.6 L550.3 153.1 L563.9 146.6 L577.5 140 L591 133.3 L604.6 126.6 L606.6 129 L615.2 122.5 L616.2 125.7 L616.8 129 L625.3 122.5 L626.3 125.7 L626.9 129 L635.4 122.5 L636.4 125.7 L637 129 L645.6 122.5 L646.6 125.7 L647.2 129 L655.7 122.5 L656.7 125.7 L657.3 129 L665.8 122.5 L666.8 125.7 L667.5 129 L676 122.5 L677 125.7 L677.6 129 L686.1 122.5 L687.1 125.7 L687.7 129 L696.2 122.5 L697.3 125.7 L697.9 129 L706.4 122.5 L707.4 125.7 L708 129 L716.5 122.5 L717.5 125.7 L718.1 129 L726.6 122.5 L727.7 125.7 L728.3 129 L736.8 122.5 L737.8 125.7 L738.4 129 L746.9 122.5 L747.9 125.7 L748.5 129 L757 122.5 L758.1 125.7 L758.7 129 L767.2 122.5 L768.2 125.7 L768.8 129 L777.3 122.5 L778.3 125.7 L778.9 129 L787.5 122.5 L788.5 125.7 L789.1 129 L797.6 122.5 L798.6 125.7 L799.2 129 L807.7 122.5 L808.7 125.7 L809.3 129 L817.9 122.5 L818.9 125.7 L819.5 129 L828 122.5 L829 125.7 L829.6 129 L838.1 122.5 L839.1 125.7 L839.8 129 L848.3 122.5 L849.3 125.7 L849.9 129 L858.4 122.5 L859.4 125.7 L860 129 L868.5 122.5 L869.5 125.7 L870.2 129 L878.7 122.5 L879.7 125.7 L880.3 129 L888.8 122.5 L889.8 125.7 L890.4 129 L898.9 122.5 L900 125.7 L900.6 129 L909.1 122.5 L910.1 125.7 L910.7 129 L919.2 122.5 L920.2 125.7 L920.8 129 L929.3 122.5 L930.4 125.7 L931 129 L939.5 122.5 L940.5 125.7 L941.1 129 L949.6 122.5 L950.6 125.7 L951.2 129 L959.7 122.5 L960.8 125.7 L961.4 129 L969.9 122.5 L970.9 125.7 L971.5 129 L980 122.5 L981 125.7 L981.6 129 L990.2 122.5 L991.2 125.7 L991.8 129 L1000.3 122.5 L1001.3 125.7 L1001.9 129 L1010.4 122.5 L1011.4 125.7 L1012 129 L1020.6 122.5 L1021.6 125.7 L1022.2 129 L1030.7 122.5 L1031.7 125.7 L1032.3 129 L1040.8 122.5 L1041.8 125.7 L1042.5 129 L1051 122.5 L1052 125.7 L1052.6 129 L1061.1 122.5 L1062.1 125.7 L1062.7 129 L1071.2 122.5 L1072.2 125.7 L1072.9 129 L1081.4 122.5 L1082.4 125.7 L1083 129 L1091.5 122.5 L1092.5 125.7 L1093.1 129 L1101.6 122.5 L1102.7 125.7 L1103.3 129 L1111.8 122.5 L1112.8 125.7 L1113.4 129 L1121.9 122.5 L1122.9 125.7 L1123.5 129 L1132 122.5 L1133.1 125.7 L1133.7 129 L1142.2 122.5 L1143.2 125.7 L1143.8 129 L1152.3 122.5 L1153.3 125.7 L1153.9 129 L1162.4 122.5 L1163.5 125.7 L1164.1 129 L1172.6 122.5 L1173.6 125.7 L1174.2 129 L1182.7 122.5 L1183.7 125.7 L1184.3 129 L1192.9 122.5 L1193.9 125.7 L1194.5 129 L1203 122.5 L1204 125.7 L1204.6 129 L1213.1 122.5 L1214.1 125.7 L1214.7 129 L1223.3 122.5 L1224.3 125.7 L1224.9 129 L1233.4 122.5 L1234.4 125.7 L1235 129 L1243.5 122.5 L1244.5 125.7 L1245.2 129 L1253.7 122.5 L1254.7 125.7 L1255.3 129 L1263.8 122.5 L1264.8 125.7 L1265.4 129 L1273.9 122.5 L1274.9 125.7 L1275.6 129 L1284.1 122.5 L1285.1 125.7 L1285.7 129 L1294.2 122.5 L1295.2 125.7 L1295.8 129 L1304.3 122.5 L1305.4 125.7 L1306 129 L1314.5 122.5 L1315.5 125.7 L1316.1 129 L1324.6 122.5 L1325.6 125.7 L1326.2 129 L1334.7 122.5 L1335.8 125.7 L1336.4 129 L1344.9 122.5 L1345.9 125.7 L1346.5 129 L1355 122.5 L1356 125.7 L1356.6 129 L1365.1 122.5 L1366.2 125.7 L1366.8 129 L1375.3 122.5 L1376.3 125.7 L1376.9 129 L1385.4 122.5 L1386.4 125.7 L1387 129 L1395.6 122.5 L1396.6 125.7 L1397.2 129 L1405.7 122.5 L1406.7 125.7 L1407.3 129 L1415.8 122.5 L1416.8 125.7 L1417.4 129 L1426 122.5 L1427 125.7 L1427.6 129 L1436.1 122.5 L1437.1 125.7 L1437.7 129 L1446.2 122.5 L1447.2 125.7 L1447.9 129 L1456.4 122.5 L1457.4 125.7 L1458 129 L1466.5 122.5 L1467.5 125.7 L1468.1 129 L1476.6 122.5 L1477.6 125.7 L1478.3 129 L1486.8 122.5 L1487.8 125.7 L1488.4 129 L1496.9 122.5 L1497.9 125.7 L1498.5 129 L1507 122.5 L1508.1 125.7 L1508.7 129 L1517.2 122.5 L1518.2 125.7 L1518.8 129 L1527.3 122.5 L1528.3 125.7 L1528.9 129 L1537.4 122.5 L1538.5 125.7 L1539.1 129 L1547.6 122.5 L1548.6 125.7 L1549.2 129 L1557.7 122.5 L1558.7 125.7 L1559.3 129 L1567.8 122.5 L1568.9 125.7 L1569.5 129 L1578 122.5 L1579 125.7 L1579.6 129 L1588.1 122.5 L1589.1 125.7 L1589.7 129 L1598.3 122.5 L1599.3 125.7 L1599.9 129 L1608.4 122.5 L1609.4 125.7 L1610 129 L1618.5 122.5 L1619.5 125.7 L1620.1 129 L1628.7 122.5 L1629.7 125.7 L1630.3 129 L1638.8 122.5 L1639.8 125.7 L1640.4 129 L1648.9 122.5 L1649.9 125.7 L1650.5 129 L1659.1 122.5 L1660.1 125.7 L1660.7 129 L1669.2 122.5 L1670.2 125.7 L1670.8 129 L1679.3 122.5 L1680.3 125.7 L1681 129 L1689.5 122.5 L1690.5 125.7 L1691.1 129 L1699.6 122.5 L1700.6 125.7 L1701.2 129 L1709.7 122.5 L1710.8 125.7 L1711.4 129 L1719.9 122.5 L1720.9 125.7 L1721.5 129 L1730 122.5 L1731 125.7 L1731.6 129 L1740.1 122.5 L1741.2 125.7 L1741.8 129 L1750.3 122.5 L1751.3 125.7 L1751.9 129 L1760.4 122.5 L1761.4 125.7 L1762 129 L1770.5 122.5 L1771.6 125.7 L1772.2 129 L1780.7 122.5 L1781.7 125.7 L1782.3 129 L1790.8 122.5 L1791.8 125.7 L1792.4 129 L1801 122.5 L1802 125.7 L1802.6 129 L1811.1 122.5 L1812.1 125.7 L1812.7 129 L1821.2 122.5 L1822.2 125.7 L1822.8 129 L1831.4 122.5 L1832.4 125.7 L1833 129 L1841.5 122.5 L1842.5 125.7 L1843.1 129 L1851.6 122.5 L1852.6 125.7 L1853.2 129 L1861.8 122.5 L1862.8 125.7 L1863.4 129 L1871.9 122.5 L1872.9 125.7 L1873.5 129 L1882 122.5 L1883 125.7 L1883.7 129 L1892.2 122.5 L1893.2 125.7 L1893.8 129 L1902.3 122.5 L1903.3 125.7 L1903.9 129 L1912.4 122.5 L1913.5 125.7 L1914.1 129 L1922.6 122.5 L1923.6 125.7 L1924.2 129 L1932.7 122.5 L1933.7 125.7 L1934.3 129 L1942.8 122.5 L1943.9 125.7 L1944.5 129 L1953 122.5 L1954 125.7 L1954.6 129 L1963.1 122.5 L1964.1 125.7 L1964.7 129 L1973.2 122.5 L1974.3 125.7 L1974.9 129 L1983.4 122.5 L1984.4 125.7 L1985 129 L1993.5 122.5 L1994.5 125.7 L1995.1 129 L2003.7 122.5 L2004.7 125.7 L2005.3 129 L2013.8 122.5 L2014.8 125.7 L2015.4 129 L2023.9 122.5 L2024.9 125.7 L2025.5 129 L2034.1 122.5 L2035.1 125.7 L2035.7 129 L2044.2 122.5 L2045.2 125.7 L2045.8 129 L2054.3 122.5 L2055.3 125.7 L2055.9 129 L2064.5 122.5 L2065.5 125.7 L2066.1 129 L2074.6 122.5 L2075.6 125.7 L2076.2 129 L2084.7 122.5 L2085.7 125.7 L2086.4 129 L2094.9 122.5 L2095.9 125.7 L2096.5 129 L2105 122.5 L2106 125.7 L2106.6 129 L2115.1 122.5 L2116.2 125.7 L2116.8 129 L2125.3 122.5 L2126.3 125.7 L2126.9 129 L2135.4 122.5 L2136.4 125.7 L2137 129 L2145.5 122.5 L2146.6 125.7 L2147.2 129 L2155.7 122.5 L2156.7 125.7 L2157.3 129 L2165.8 122.5 L2166.8 125.7 L2167.4 129 L2175.9 122.5 L2177 125.7 L2177.6 129 L2186.1 122.5 L2187.1 125.7 L2187.7 129 L2196.2 122.5 L2197.2 125.7 L2197.8 129 L2206.4 122.5 L2207.4 125.7 L2208 129 L2216.5 122.5 L2217.5 125.7 L2218.1 129 L2226.6 122.5 L2227.6 125.7 L2228.2 129 L2236.8 122.5 L2237.8 125.7 L2238.4 129 L2246.9 122.5 L2247.9 125.7 L2248.5 129 L2257 122.5 L2258 125.7 L2258.7 129 L2267.2 122.5 L2268.2 125.7 L2268.8 129 L2277.3 122.5 L2278.3 125.7 L2278.9 129 L2287.4 122.5 L2288.4 125.7 L2289.1 129 L2297.6 122.5 L2298.6 125.7 L2299.2 129 L2307.7 122.5 L2308.7 125.7 L2309.3 129 L2317.8 122.5 L2318.9 125.7 L2319.5 129 L2328 122.5 L2329 125.7 L2329.6 129 L2338.1 122.5 L2339.1 125.7 L2339.7 129 L2348.2 122.5 L2349.3 125.7 L2349.9 129 L2358.4 122.5 L2359.4 125.7 L2360 129" fill="none" stroke="#0000ff" stroke-width="6" stroke-linejoin="round"/>
<path d="M333 219.8 L349.4 244 L333 268.2 L316.6 244 Z" fill="none" stroke="#0000ff" stroke-width="6" stroke-linejoin="miter" stroke-miterlimit="10"/>
<path d="M605.5 100.8 L621.9 125 L605.5 149.2 L589.1 125 Z" fill="none" stroke="#0000ff" stroke-width="6" stroke-linejoin="miter" stroke-miterlimit="10"/>
<path d="M798 100.8 L814.4 125 L798 149.2 L781.6 125 Z" fill="none" stroke="#0000ff" stroke-width="6" stroke-linejoin="miter" stroke-miterlimit="10"/>
<path d="M999.5 100.8 L1015.9 125 L999.5 149.2 L983.1 125 Z" fill="none" stroke="#0000ff" stroke-width="6" stroke-linejoin="miter" stroke-miterlimit="10"/>
<path d="M1193.3 100.8 L1209.7 125 L1193.3 149.2 L1176.9 125 Z" fill="none" stroke="#0000ff" stroke-width="6" stroke-linejoin="miter" stroke-miterlimit="10"/>
<path d="M1385.5 100.8 L1401.9 125 L1385.5 149.2 L1369.1 125 Z" fill="none" stroke="#0000ff" stroke-width="6" stroke-linejoin="miter" stroke-miterlimit="10"/>
<path d="M1578.6 100.8 L1595 125 L1578.6 149.2 L1562.2 125 Z" fill="none" stroke="#0000ff" stroke-width="6" stroke-linejoin="miter" stroke-miterlimit="10"/>
<path d="M1771.9 100.8 L1788.3 125 L1771.9 149.2 L1755.5 125 Z" fill="none" stroke="#0000ff" stroke-width="6" stroke-linejoin="miter" stroke-miterlimit="10"/>
<path d="M1973.8 100.8 L1990.2 125 L1973.8 149.2 L1957.4 125 Z" fill="none" stroke="#0000ff" stroke-width="6" stroke-linejoin="miter" stroke-miterlimit="10"/>
<path d="M2167 100.8 L2183.4 125 L2167 149.2 L2150.6 125 Z" fill="none" stroke="#0000ff" stroke-width="6" stroke-linejoin="miter" stroke-miterlimit="10"/>
<path d="M2361 100.8 L2377.4 125 L2361 149.2 L2344.6 125 Z" fill="none" stroke="#0000ff" stroke-width="6" stroke-linejoin="miter" stroke-miterlimit="10"/>
<line x1="1450.5" y1="64.8" x2="1450.5" y2="992.2" stroke="#000" stroke-width="10" stroke-dasharray="29.9 29.6" stroke-linecap="round"/>
<line x1="1475" y1="59.4" x2="1548.8" y2="59.4" stroke="#000" stroke-width="10" stroke-dasharray="29.9 29.6" stroke-linecap="round"/>
<line x1="1548.8" y1="81.3" x2="1548.8" y2="992.2" stroke="#000" stroke-width="10" stroke-dasharray="29.9 29.6" stroke-linecap="round"/>
<line x1="1450.5" y1="992.2" x2="1479.4" y2="992.2" stroke="#000" stroke-width="10" stroke-linecap="round"/>
<line x1="1511" y1="992.2" x2="1540.2" y2="992.2" stroke="#000" stroke-width="10" stroke-linecap="round"/>
<line x1="1548.8" y1="980" x2="1548.8" y2="992.2" stroke="#000" stroke-width="10" stroke-linecap="round"/>
<path d="M1540 59.4 L1548.8 59.4 L1548.8 78" fill="none" stroke="#000" stroke-width="4" stroke-linejoin="round"/>
<text transform="translate(333,1124.5) scale(1,1.05)" font-size="86" text-anchor="middle" fill="#262626">0</text>
<text transform="translate(738.4,1124.5) scale(1,1.05)" font-size="86" text-anchor="middle" fill="#262626">0.2</text>
<text transform="translate(1143.8,1124.5) scale(1,1.05)" font-size="86" text-anchor="middle" fill="#262626">0.4</text>
<text transform="translate(1549.2,1124.5) scale(1,1.05)" font-size="86" text-anchor="middle" fill="#262626">0.6</text>
<text transform="translate(1954.6,1124.5) scale(1,1.05)" font-size="86" text-anchor="middle" fill="#262626">0.8</text>
<text transform="translate(2360,1124.5) scale(1,1.05)" font-size="86" text-anchor="middle" fill="#262626">1</text>
<text transform="scale(1,1.05)" font-size="86" fill="#262626"><tspan x="302.3" y="147.6" text-anchor="end">1</tspan></text>
<text transform="scale(1,1.05)" font-size="86" fill="#262626"><tspan x="300.6" y="340.6" text-anchor="end">0.5</tspan></text>
<text transform="scale(1,1.05)" font-size="86" fill="#262626"><tspan x="302" y="533" text-anchor="end">0</tspan></text>
<text transform="scale(1,1.05)" font-size="86" fill="#262626"><tspan x="135.7" y="737.3" font-size="100" text-anchor="start" fill="#000" stroke="#000" stroke-width="1.8">&#x2212;</tspan><tspan x="319.2" y="726.6" text-anchor="end">0.5</tspan></text>
<text transform="scale(1,1.05)" font-size="86" fill="#262626"><tspan x="194.9" y="931.1" font-size="100" text-anchor="start" fill="#000" stroke="#000" stroke-width="1.8">&#x2212;</tspan><tspan x="296.5" y="918.5" text-anchor="end">1</tspan></text>
<text x="2349" y="1236.4" font-size="96.5" text-anchor="end" fill="#262626">Time (s)</text>
<text transform="translate(107.7,527.5) rotate(-90)" font-size="96.5" text-anchor="middle" fill="#262626">Voltage (V)</text>
<rect x="1907.7" y="627.5" width="396.3" height="277" fill="#fff" stroke="#262626" stroke-width="3.3"/>
<line x1="1926" y1="701.3" x2="2113" y2="701.3" stroke="#0000ff" stroke-width="5.5"/>
<path d="M2019.3 677.1 L2035.7 701.3 L2019.3 725.5 L2002.9 701.3 Z" fill="none" stroke="#0000ff" stroke-width="6" stroke-linejoin="miter" stroke-miterlimit="10"/>
<line x1="1926" y1="831" x2="2113" y2="831" stroke="#ff0000" stroke-width="5.5"/>
<text x="2125.5" y="713.3" font-size="77" text-anchor="start" fill="#000">V</text>
<text x="2180" y="751" font-size="64" text-anchor="start" fill="#000">rec</text>
<text x="2125.5" y="840.4" font-size="77" text-anchor="start" fill="#000">V</text>
<text x="2180" y="878.8" font-size="64" text-anchor="start" fill="#000">peh</text>
<line x1="1493.7" y1="999.5" x2="1412" y2="1238" stroke="#000" stroke-width="10.5"/>
<path d="M1374.2 1346.7 L1371 1214.8 Q1389 1233.5 1412 1238 Q1432.9 1248.9 1458.7 1245.7 Z" fill="#000" stroke="#000" stroke-width="4" stroke-linejoin="round"/>
<line x1="615.5" y1="1393.5" x2="615.5" y2="2357" stroke="#dcdcdc" stroke-width="3"/>
<line x1="1002.3" y1="1393.5" x2="1002.3" y2="2357" stroke="#dcdcdc" stroke-width="3"/>
<line x1="1389.1" y1="1393.5" x2="1389.1" y2="2357" stroke="#dcdcdc" stroke-width="3"/>
<line x1="1775.9" y1="1393.5" x2="1775.9" y2="2357" stroke="#dcdcdc" stroke-width="3"/>
<line x1="2162.7" y1="1393.5" x2="2162.7" y2="2357" stroke="#dcdcdc" stroke-width="3"/>
<line x1="332" y1="2306.9" x2="2360" y2="2306.9" stroke="#dcdcdc" stroke-width="3"/>
<line x1="332" y1="2090.2" x2="2360" y2="2090.2" stroke="#dcdcdc" stroke-width="3"/>
<line x1="332" y1="1656.7" x2="2360" y2="1656.7" stroke="#dcdcdc" stroke-width="3"/>
<line x1="332" y1="1439.9" x2="2360" y2="1439.9" stroke="#dcdcdc" stroke-width="3"/>
<line x1="332" y1="1873.4" x2="2360" y2="1873.4" stroke="#000" stroke-width="3" stroke-dasharray="18 11"/>
<rect x="332" y="1393.5" width="2028" height="963.5" fill="none" stroke="#262626" stroke-width="3.3"/>
<line x1="615.5" y1="2357" x2="615.5" y2="2335" stroke="#262626" stroke-width="3.3"/>
<line x1="615.5" y1="1393.5" x2="615.5" y2="1415.5" stroke="#262626" stroke-width="3.3"/>
<line x1="1002.3" y1="2357" x2="1002.3" y2="2335" stroke="#262626" stroke-width="3.3"/>
<line x1="1002.3" y1="1393.5" x2="1002.3" y2="1415.5" stroke="#262626" stroke-width="3.3"/>
<line x1="1389.1" y1="2357" x2="1389.1" y2="2335" stroke="#262626" stroke-width="3.3"/>
<line x1="1389.1" y1="1393.5" x2="1389.1" y2="1415.5" stroke="#262626" stroke-width="3.3"/>
<line x1="1775.9" y1="2357" x2="1775.9" y2="2335" stroke="#262626" stroke-width="3.3"/>
<line x1="1775.9" y1="1393.5" x2="1775.9" y2="1415.5" stroke="#262626" stroke-width="3.3"/>
<line x1="2162.7" y1="2357" x2="2162.7" y2="2335" stroke="#262626" stroke-width="3.3"/>
<line x1="2162.7" y1="1393.5" x2="2162.7" y2="1415.5" stroke="#262626" stroke-width="3.3"/>
<line x1="332" y1="2306.9" x2="354" y2="2306.9" stroke="#262626" stroke-width="3.3"/>
<line x1="2360" y1="2306.9" x2="2338" y2="2306.9" stroke="#262626" stroke-width="3.3"/>
<line x1="332" y1="2090.2" x2="354" y2="2090.2" stroke="#262626" stroke-width="3.3"/>
<line x1="2360" y1="2090.2" x2="2338" y2="2090.2" stroke="#262626" stroke-width="3.3"/>
<line x1="332" y1="1873.4" x2="354" y2="1873.4" stroke="#262626" stroke-width="3.3"/>
<line x1="2360" y1="1873.4" x2="2338" y2="1873.4" stroke="#262626" stroke-width="3.3"/>
<line x1="332" y1="1656.7" x2="354" y2="1656.7" stroke="#262626" stroke-width="3.3"/>
<line x1="2360" y1="1656.7" x2="2338" y2="1656.7" stroke="#262626" stroke-width="3.3"/>
<line x1="332" y1="1439.9" x2="354" y2="1439.9" stroke="#262626" stroke-width="3.3"/>
<line x1="2360" y1="1439.9" x2="2338" y2="1439.9" stroke="#262626" stroke-width="3.3"/>
<path d="M333.5 1407.2 L341.5 1407.6 L349.6 1408.6 L357.6 1410 L365.7 1411.9 L373.8 1414.3 L381.8 1417.1 L389.9 1420.2 L397.9 1423.6 L406 1427.2 L414 1430.9 L422.1 1434.7 L422.1 2298.2 L430.2 2303.5 L438.2 2308.7 L446.3 2313.7 L454.3 2318.5 L462.4 2322.9 L470.4 2327 L478.5 2330.6 L486.6 2333.8 L494.6 2336.3 L502.7 2338.3 L510.7 2339.7 L518.8 2340.5 L526.9 2340.6 L534.9 2340.1 L543 2339 L551 2337.4 L559.1 2335.1 L567.2 2332.4 L575.2 2329.2 L583.3 2325.7 L591.3 2321.8 L599.4 2317.7 L607.4 2313.4 L615.5 2309.1 L615.5 1445.1 L623.6 1440.4 L631.6 1435.8 L639.7 1431.4 L647.7 1427.1 L655.8 1423.1 L663.8 1419.5 L671.9 1416.3 L680 1413.5 L688 1411.2 L696.1 1409.4 L704.1 1408.1 L712.2 1407.4 L720.3 1407.2 L728.3 1407.6 L736.4 1408.6 L744.4 1410 L752.5 1411.9 L760.6 1414.3 L768.6 1417.1 L776.7 1420.2 L784.7 1423.6 L792.8 1427.2 L800.8 1430.9 L808.9 1434.7 L808.9 2298.2 L817 2303.5 L825 2308.7 L833.1 2313.7 L841.1 2318.5 L849.2 2322.9 L857.2 2327 L865.3 2330.6 L873.4 2333.8 L881.4 2336.3 L889.5 2338.3 L897.5 2339.7 L905.6 2340.5 L913.7 2340.6 L921.7 2340.1 L929.8 2339 L937.8 2337.4 L945.9 2335.1 L954 2332.4 L962 2329.2 L970.1 2325.7 L978.1 2321.8 L986.2 2317.7 L994.2 2313.4 L1002.3 2309.1 L1002.3 1445.1 L1010.4 1440.4 L1018.4 1435.8 L1026.5 1431.4 L1034.5 1427.1 L1042.6 1423.1 L1050.6 1419.5 L1058.7 1416.3 L1066.8 1413.5 L1074.8 1411.2 L1082.9 1409.4 L1090.9 1408.1 L1099 1407.4 L1107.1 1407.2 L1115.1 1407.6 L1123.2 1408.6 L1131.2 1410 L1139.3 1411.9 L1147.4 1414.3 L1155.4 1417.1 L1163.5 1420.2 L1171.5 1423.6 L1179.6 1427.2 L1187.6 1430.9 L1195.7 1434.7 L1195.7 2298.2 L1203.8 2303.5 L1211.8 2308.7 L1219.9 2313.7 L1227.9 2318.5 L1236 2322.9 L1244 2327 L1252.1 2330.6 L1260.2 2333.8 L1268.2 2336.3 L1276.3 2338.3 L1284.3 2339.7 L1292.4 2340.5 L1300.5 2340.6 L1308.5 2340.1 L1316.6 2339 L1324.6 2337.4 L1332.7 2335.1 L1340.8 2332.4 L1348.8 2329.2 L1356.9 2325.7 L1364.9 2321.8 L1373 2317.7 L1381 2313.4 L1389.1 2309.1 L1389.1 1445.1 L1397.2 1440.4 L1405.2 1435.8 L1413.3 1431.4 L1421.3 1427.1 L1429.4 1423.1 L1437.4 1419.5 L1445.5 1416.3 L1453.6 1413.5 L1461.6 1411.2 L1469.7 1409.4 L1477.7 1408.1 L1485.8 1407.4 L1493.9 1407.2 L1501.9 1407.6 L1510 1408.6 L1518 1410 L1526.1 1411.9 L1534.2 1414.3 L1542.2 1417.1 L1550.3 1420.2 L1558.3 1423.6 L1566.4 1427.2 L1574.4 1430.9 L1582.5 1434.7 L1582.5 2298.2 L1590.6 2303.5 L1598.6 2308.7 L1606.7 2313.7 L1614.7 2318.5 L1622.8 2322.9 L1630.8 2327 L1638.9 2330.6 L1647 2333.8 L1655 2336.3 L1663.1 2338.3 L1671.1 2339.7 L1679.2 2340.5 L1687.3 2340.6 L1695.3 2340.1 L1703.4 2339 L1711.4 2337.4 L1719.5 2335.1 L1727.6 2332.4 L1735.6 2329.2 L1743.7 2325.7 L1751.7 2321.8 L1759.8 2317.7 L1767.8 2313.4 L1775.9 2309.1 L1775.9 1445.1 L1784 1440.4 L1792 1435.8 L1800.1 1431.4 L1808.1 1427.1 L1816.2 1423.1 L1824.2 1419.5 L1832.3 1416.3 L1840.4 1413.5 L1848.4 1411.2 L1856.5 1409.4 L1864.5 1408.1 L1872.6 1407.4 L1880.7 1407.2 L1888.7 1407.6 L1896.8 1408.6 L1904.8 1410 L1912.9 1411.9 L1921 1414.3 L1929 1417.1 L1937.1 1420.2 L1945.1 1423.6 L1953.2 1427.2 L1961.2 1430.9 L1969.3 1434.7 L1969.3 2298.2 L1977.4 2303.5 L1985.4 2308.7 L1993.5 2313.7 L2001.5 2318.5 L2009.6 2322.9 L2017.7 2327 L2025.7 2330.6 L2033.8 2333.8 L2041.8 2336.3 L2049.9 2338.3 L2057.9 2339.7 L2066 2340.5 L2074.1 2340.6 L2082.1 2340.1 L2090.2 2339 L2098.2 2337.4 L2106.3 2335.1 L2114.4 2332.4 L2122.4 2329.2 L2130.5 2325.7 L2138.5 2321.8 L2146.6 2317.7 L2154.6 2313.4 L2162.7 2309.1 L2162.7 1445.1 L2170.8 1440.4 L2178.8 1435.8 L2186.9 1431.4 L2194.9 1427.1 L2203 1423.1 L2211.1 1419.5 L2219.1 1416.3 L2227.2 1413.5 L2235.2 1411.2 L2243.3 1409.4 L2251.3 1408.1 L2259.4 1407.4 L2267.5 1407.2 L2275.5 1407.6 L2283.6 1408.6 L2291.6 1410 L2299.7 1411.9 L2307.8 1414.3 L2315.8 1417.1 L2323.9 1420.2 L2331.9 1423.6 L2340 1427.2 L2348 1430.9 L2356.1 1434.7 L2356.1 2298.2" fill="none" stroke="#ff0000" stroke-width="7" stroke-linejoin="round"/>
<path d="M333.1 1443.7 L398.9 1441.2 L404.7 1441.6 L410.5 1444.7 L417.5 1445.1 L422.1 1447.7 L422.1 1447.7 L592.3 1441.2 L598.1 1441.6 L603.9 1444.7 L610.9 1445.1 L615.5 1447.7 L615.5 1447.7 L785.7 1441.2 L791.5 1441.6 L797.3 1444.7 L804.3 1445.1 L808.9 1447.7 L808.9 1447.7 L979.1 1441.2 L984.9 1441.6 L990.7 1444.7 L997.7 1445.1 L1002.3 1447.7 L1002.3 1447.7 L1172.5 1441.2 L1178.3 1441.6 L1184.1 1444.7 L1191.1 1445.1 L1195.7 1447.7 L1195.7 1447.7 L1365.9 1441.2 L1371.7 1441.6 L1377.5 1444.7 L1384.5 1445.1 L1389.1 1447.7 L1389.1 1447.7 L1559.3 1441.2 L1565.1 1441.6 L1570.9 1444.7 L1577.9 1445.1 L1582.5 1447.7 L1582.5 1447.7 L1752.7 1441.2 L1758.5 1441.6 L1764.3 1444.7 L1771.3 1445.1 L1775.9 1447.7 L1775.9 1447.7 L1946.1 1441.2 L1951.9 1441.6 L1957.7 1444.7 L1964.7 1445.1 L1969.3 1447.7 L1969.3 1447.7 L2139.5 1441.2 L2145.3 1441.6 L2151.1 1444.7 L2158.1 1445.1 L2162.7 1447.7 L2162.7 1447.7 L2332.9 1441.2 L2338.7 1441.6 L2344.5 1444.7 L2351.5 1445.1" fill="none" stroke="#0000ff" stroke-width="6.2" stroke-linejoin="round"/>
<path d="M510.6 1418.4 L526.8 1443.5 L510.6 1468.6 L494.4 1443.5 Z" fill="none" stroke="#0000ff" stroke-width="6" stroke-linejoin="miter" stroke-miterlimit="10"/>
<path d="M902 1418.4 L918.2 1443.5 L902 1468.6 L885.8 1443.5 Z" fill="none" stroke="#0000ff" stroke-width="6" stroke-linejoin="miter" stroke-miterlimit="10"/>
<path d="M1288.3 1418.4 L1304.5 1443.5 L1288.3 1468.6 L1272.1 1443.5 Z" fill="none" stroke="#0000ff" stroke-width="6" stroke-linejoin="miter" stroke-miterlimit="10"/>
<path d="M1677.7 1418.4 L1693.9 1443.5 L1677.7 1468.6 L1661.5 1443.5 Z" fill="none" stroke="#0000ff" stroke-width="6" stroke-linejoin="miter" stroke-miterlimit="10"/>
<path d="M2063 1418.4 L2079.2 1443.5 L2063 1468.6 L2046.8 1443.5 Z" fill="none" stroke="#0000ff" stroke-width="6" stroke-linejoin="miter" stroke-miterlimit="10"/>
<rect x="988.5" y="1431.7" width="29.3" height="27.3" fill="none" stroke="#00cc00" stroke-width="10" stroke-linejoin="round"/>
<line x1="1750.1" y1="1414.4" x2="1750.1" y2="2337.4" stroke="#000" stroke-width="10" stroke-dasharray="30.7 28.9" stroke-linecap="round"/>
<line x1="1802.4" y1="1462.8" x2="1802.4" y2="2337.4" stroke="#000" stroke-width="10" stroke-dasharray="30.7 28.9" stroke-linecap="round"/>
<path d="M1758 1418 L1750.1 1418 L1750.1 1440" fill="none" stroke="#000" stroke-width="10" stroke-linejoin="round" stroke-linecap="round"/>
<path d="M1776 1418 L1802.4 1418 L1802.4 1440" fill="none" stroke="#000" stroke-width="10" stroke-linejoin="round" stroke-linecap="round"/>
<line x1="1750.1" y1="2337.4" x2="1768" y2="2337.4" stroke="#000" stroke-width="10" stroke-linecap="round"/>
<line x1="1366.5" y1="1478" x2="1366.5" y2="1842" stroke="#000" stroke-width="4.5"/>
<path d="M1366.5 1447 L1379.5 1481 Q1370.4 1472.5 1366.5 1472.5 Q1362.6 1472.5 1353.5 1481 Z" fill="#000"/>
<path d="M1366.5 1873.3 L1353.5 1839.3 Q1362.6 1847.8 1366.5 1847.8 Q1370.4 1847.8 1379.5 1839.3 Z" fill="#000"/>
<line x1="1345" y1="1447" x2="1388" y2="1447" stroke="#000" stroke-width="3.5" stroke-dasharray="14 8"/>
<text transform="translate(1329.5,1739.4) rotate(-90)" font-size="103" fill="#262626">V</text>
<text transform="translate(1349.6,1670) rotate(-90)" font-size="66" fill="#262626">built</text>
<text transform="translate(615.5,2469.5) scale(1,1.05)" font-size="86" text-anchor="middle" fill="#262626">0.55</text>
<text transform="translate(1002.3,2469.5) scale(1,1.05)" font-size="86" text-anchor="middle" fill="#262626">0.56</text>
<text transform="translate(1389.1,2469.5) scale(1,1.05)" font-size="86" text-anchor="middle" fill="#262626">0.57</text>
<text transform="translate(1775.9,2469.5) scale(1,1.05)" font-size="86" text-anchor="middle" fill="#262626">0.58</text>
<text transform="translate(2162.7,2469.5) scale(1,1.05)" font-size="86" text-anchor="middle" fill="#262626">0.59</text>
<text transform="scale(1,1.05)" font-size="86" fill="#262626"><tspan x="302.5" y="1402.3" text-anchor="end">1</tspan></text>
<text transform="scale(1,1.05)" font-size="86" fill="#262626"><tspan x="301.1" y="1609.3" text-anchor="end">0.5</tspan></text>
<text transform="scale(1,1.05)" font-size="86" fill="#262626"><tspan x="301.7" y="1814.5" text-anchor="end">0</tspan></text>
<text transform="scale(1,1.05)" font-size="86" fill="#262626"><tspan x="120.6" y="2032.6" font-size="100" text-anchor="start" fill="#000" stroke="#000" stroke-width="1.8">&#x2212;</tspan><tspan x="298.6" y="2021.7" text-anchor="end">0.5</tspan></text>
<text transform="scale(1,1.05)" font-size="86" fill="#262626"><tspan x="195.4" y="2239.7" font-size="100" text-anchor="start" fill="#000" stroke="#000" stroke-width="1.8">&#x2212;</tspan><tspan x="298.7" y="2227.9" text-anchor="end">1</tspan></text>
<text x="2349" y="2580.1" font-size="96.5" text-anchor="end" fill="#262626">Time (s)</text>
<text transform="translate(107.7,1875.4) rotate(-90)" font-size="96.5" text-anchor="middle" fill="#262626">Voltage (V)</text>
<rect x="1901" y="2016.8" width="399.5" height="273.2" fill="#fff" stroke="#262626" stroke-width="3.3"/>
<line x1="1920.3" y1="2090.4" x2="2106.8" y2="2090.4" stroke="#0000ff" stroke-width="5.5"/>
<path d="M2013.3 2066.7 L2029.7 2090.4 L2013.3 2114.1 L1996.9 2090.4 Z" fill="none" stroke="#0000ff" stroke-width="6" stroke-linejoin="miter" stroke-miterlimit="10"/>
<line x1="1920.3" y1="2216.3" x2="2106.8" y2="2216.3" stroke="#ff0000" stroke-width="5.5"/>
<text x="2121.5" y="2097.7" font-size="77" text-anchor="start" fill="#000">V</text>
<text x="2175.5" y="2135.5" font-size="64" text-anchor="start" fill="#000">rec</text>
<text x="2121.5" y="2228.5" font-size="77" text-anchor="start" fill="#000">V</text>
<text x="2175.5" y="2267.2" font-size="64" text-anchor="start" fill="#000">peh</text>
<rect x="478" y="1633.4" width="486.4" height="486.4" fill="#fff"/>
<path d="M678.6 2119.5 L681.6 2077.5 L684.6 2041.1 L687.6 2009.5 L690.6 1982.2 L693.6 1958.5 L696.6 1937.9 L699.6 1920.1 L702.6 1904.6 L705.6 1891.2 L708.6 1879.6 L711.6 1869.5 L714.6 1860.8 L717.6 1853.3 L720.6 1846.7 L723.6 1841 L726.6 1836.1 L729.6 1831.8 L732.6 1828.1 L735.6 1824.9 L738.6 1822.1 L741.6 1819.7 L744.6 1817.6 L747.6 1815.8 L750.6 1814.2 L753.6 1812.9 L756.6 1811.7 L759.6 1810.7 L762.6 1809.8 L765.6 1809 L768.6 1808.3 L771.6 1807.8 L774.6 1807.3 L777.6 1806.8 L780.6 1806.5 L783.6 1806.1 L786.6 1805.8 L789.6 1805.6 L792.6 1805.4 L795.6 1805.2 L798.6 1805 L850 1801 L966.8 1793.4" fill="none" stroke="#ff0000" stroke-width="6.5" stroke-linejoin="round"/>
<path d="M478.3 1668.8 L603 1668.8 L606 1687.1 L609 1702.9 L612 1716.4 L615 1728.1 L618 1738.1 L621 1746.8 L624 1754.2 L627 1760.6 L630 1766.1 L633 1770.9 L636 1775 L639 1778.5 L642 1781.5 L645 1784.1 L648 1786.4 L651 1788.3 L654 1789.9 L657 1791.4 L660 1792.6 L663 1793.7 L666 1794.6 L669 1795.4 L672 1796 L675 1796.6 L678 1797.1 L681 1797.5 L684 1797.9 L687 1798.2 L690 1798.5 L693 1798.7 L696 1798.9 L699 1799.1 L702 1799.3 L705 1799.4 L708 1799.5 L711 1799.6 L714 1799.7 L717 1799.8 L720 1799.8 L966.8 1800.2" fill="none" stroke="#0000ff" stroke-width="6.5" stroke-linejoin="round"/>
<path d="M540 1643.7 L556.9 1668.8 L540 1693.9 L523.1 1668.8 Z" fill="none" stroke="#0000ff" stroke-width="6" stroke-linejoin="miter" stroke-miterlimit="10"/>
<path d="M817.2 1775.1 L834.1 1800.2 L817.2 1825.3 L800.3 1800.2 Z" fill="none" stroke="#0000ff" stroke-width="6" stroke-linejoin="miter" stroke-miterlimit="10"/>
<line x1="604.1" y1="1640" x2="604.1" y2="2123" stroke="#000" stroke-width="4" stroke-dasharray="16 10"/>
<line x1="791.9" y1="1806" x2="791.9" y2="2123" stroke="#000" stroke-width="4" stroke-dasharray="16 10"/>
<line x1="604" y1="1668.8" x2="829" y2="1668.8" stroke="#000" stroke-width="4" stroke-dasharray="16 10"/>
<line x1="746.6" y1="1690" x2="746.6" y2="1777" stroke="#000" stroke-width="3.5"/>
<path d="M746.6 1667 L755.1 1692 Q749.1 1685.8 746.6 1685.8 Q744.1 1685.8 738.1 1692 Z" fill="#000"/>
<path d="M746.6 1798.3 L738.1 1773.3 Q744.1 1779.5 746.6 1779.5 Q749.1 1779.5 755.1 1773.3 Z" fill="#000"/>
<line x1="625" y1="1851.2" x2="771" y2="1851.2" stroke="#000" stroke-width="3.5"/>
<path d="M604.5 1851.2 L629.5 1842.7 Q623.2 1848.7 623.2 1851.2 Q623.2 1853.8 629.5 1859.7 Z" fill="#000"/>
<path d="M791.5 1851.2 L766.5 1859.7 Q772.8 1853.8 772.8 1851.2 Q772.8 1848.7 766.5 1842.7 Z" fill="#000"/>
<text x="632" y="1753" font-size="70" text-anchor="start" fill="#000">&#x394;V</text>
<text x="758" y="1753" font-size="70" text-anchor="start" fill="#000">10 mV</text>
<text transform="translate(676,2108) rotate(-90)" font-size="70" fill="#000">Sharing</text>
<text transform="translate(759.8,2082) rotate(-90)" font-size="70" fill="#000">phase</text>
<rect x="478" y="1633.4" width="486.4" height="486.4" fill="none" stroke="#00cc00" stroke-width="10.3"/>
<line x1="1002" y1="1461.2" x2="970.7" y2="1522.3" stroke="#000" stroke-width="8"/>
<path d="M919.8 1621.9 L935.6 1491.4 Q949.8 1513.3 970.7 1522.3 Q990.4 1534.3 1016.7 1533.3 Z" fill="#000" stroke="#000" stroke-width="4" stroke-linejoin="round"/>
<line x1="1746" y1="2003" x2="1567.8" y2="2562.7" stroke="#000" stroke-width="10"/>
<path d="M1534.1 2667.3 L1527.4 2536.3 Q1545.4 2556.3 1567.8 2562.7 Q1589.4 2569.9 1615.4 2563.5 Z" fill="#000" stroke="#000" stroke-width="4" stroke-linejoin="round"/>
<path d="M335 2859.6 L461.2 2859.6 L461.2 2859.6 L464.2 2844.2 L467.2 2832 L470.2 2822.3 L473.2 2814.6 L476.2 2808.5 L479.2 2803.7 L482.2 2799.8 L485.2 2796.8 L488.2 2794.3 L491.2 2792.4 L494.2 2790.9 L497.2 2789.7 L500.2 2788.7 L503.2 2787.9 L506.2 2787.3 L509.2 2786.9 L512.2 2786.5 L515.2 2786.2 L518.2 2785.9 L521.2 2785.7 L524.2 2785.6 L527.2 2785.5 L530.2 2785.4 L533.2 2785.3 L536.2 2785.2 L539.2 2785.2 L542.2 2785.1 L545.2 2785.1 L548.2 2785.1 L551.2 2785.1 L897.2 2785 L897.2 2785 L902.2 2776 L907.2 2768.1 L912.2 2761.2 L917.2 2755.1 L922.2 2749.8 L927.2 2745.1 L932.2 2741.1 L937.2 2737.5 L942.2 2734.3 L947.2 2731.6 L952.2 2729.2 L957.2 2727.1 L962.2 2725.2 L967.2 2723.6 L972.2 2722.1 L977.2 2720.9 L982.2 2719.8 L987.2 2718.8 L992.2 2718 L997.2 2717.3 L1002.2 2716.6 L1007.2 2716 L1012.2 2715.5 L1017.2 2715.1 L1022.2 2714.7 L1027.2 2714.4 L1032.2 2714.1 L1037.2 2713.8 L1042.2 2713.6 L1047.2 2713.4 L1052.2 2713.2 L1057.2 2713.1 L1062.2 2712.9 L1067.2 2712.8 L1072.2 2712.7 L1077.2 2712.6 L1082.2 2712.6 L1087.2 2712.5 L1092.2 2712.4 L1097.2 2712.4 L1102.2 2712.3 L1107.2 2712.3 L1112.2 2712.3 L1117.2 2712.2 L1122.2 2712.2 L1127.2 2712.2 L1132.2 2712.2 L1137.2 2712.1 L1142.2 2712.1 L1147.2 2712.1 L1890 2711.5 L1907 2710.2 L1957 2710.2" fill="none" stroke="#ff0000" stroke-width="7" stroke-linejoin="round"/>
<path d="M335 2711.4 L1957 2711.8" fill="none" stroke="#0000ff" stroke-width="7" stroke-linejoin="round"/>
<path d="M467.4 2688.3 L483.8 2712 L467.4 2735.7 L451 2712 Z" fill="none" stroke="#0000ff" stroke-width="6" stroke-linejoin="miter" stroke-miterlimit="10"/>
<path d="M797 2688.3 L813.4 2712 L797 2735.7 L780.6 2712 Z" fill="none" stroke="#0000ff" stroke-width="6" stroke-linejoin="miter" stroke-miterlimit="10"/>
<path d="M1116.3 2688.3 L1132.7 2712 L1116.3 2735.7 L1099.9 2712 Z" fill="none" stroke="#0000ff" stroke-width="6" stroke-linejoin="miter" stroke-miterlimit="10"/>
<path d="M1429.5 2688.3 L1445.9 2712 L1429.5 2735.7 L1413.1 2712 Z" fill="none" stroke="#0000ff" stroke-width="6" stroke-linejoin="miter" stroke-miterlimit="10"/>
<path d="M1733.8 2688.3 L1750.2 2712 L1733.8 2735.7 L1717.4 2712 Z" fill="none" stroke="#0000ff" stroke-width="6" stroke-linejoin="miter" stroke-miterlimit="10"/>
<path d="M1966 2688.3 L1982.4 2712 L1966 2735.7 L1949.6 2712 Z" fill="none" stroke="#0000ff" stroke-width="6" stroke-linejoin="miter" stroke-miterlimit="10"/>
<rect x="335" y="2695.5" width="2029" height="180.3" fill="none" stroke="#262626" stroke-width="3.7"/>
<line x1="647.3" y1="2875.8" x2="647.3" y2="2852.8" stroke="#262626" stroke-width="3.7"/>
<line x1="647.3" y1="2695.5" x2="647.3" y2="2718.5" stroke="#262626" stroke-width="3.7"/>
<line x1="959" y1="2875.8" x2="959" y2="2852.8" stroke="#262626" stroke-width="3.7"/>
<line x1="959" y1="2695.5" x2="959" y2="2718.5" stroke="#262626" stroke-width="3.7"/>
<line x1="1270.7" y1="2875.8" x2="1270.7" y2="2852.8" stroke="#262626" stroke-width="3.7"/>
<line x1="1270.7" y1="2695.5" x2="1270.7" y2="2718.5" stroke="#262626" stroke-width="3.7"/>
<line x1="1582.4" y1="2875.8" x2="1582.4" y2="2852.8" stroke="#262626" stroke-width="3.7"/>
<line x1="1582.4" y1="2695.5" x2="1582.4" y2="2718.5" stroke="#262626" stroke-width="3.7"/>
<line x1="1894.1" y1="2875.8" x2="1894.1" y2="2852.8" stroke="#262626" stroke-width="3.7"/>
<line x1="1894.1" y1="2695.5" x2="1894.1" y2="2718.5" stroke="#262626" stroke-width="3.7"/>
<line x1="2205.8" y1="2875.8" x2="2205.8" y2="2852.8" stroke="#262626" stroke-width="3.7"/>
<line x1="2205.8" y1="2695.5" x2="2205.8" y2="2718.5" stroke="#262626" stroke-width="3.7"/>
<line x1="335" y1="2710.8" x2="358" y2="2710.8" stroke="#262626" stroke-width="3.7"/>
<line x1="335" y1="2786" x2="358" y2="2786" stroke="#262626" stroke-width="3.7"/>
<line x1="335" y1="2860.7" x2="358" y2="2860.7" stroke="#262626" stroke-width="3.7"/>
<text transform="scale(1,1.05)" font-size="86" fill="#262626"><tspan x="302.2" y="2606.6" text-anchor="end">1</tspan></text>
<text transform="scale(1,1.05)" font-size="86" fill="#262626"><tspan x="301.1" y="2685.3" text-anchor="end">0</tspan></text>
<text transform="scale(1,1.05)" font-size="86" fill="#262626"><tspan x="194.8" y="2772.9" font-size="100" text-anchor="start" fill="#000" stroke="#000" stroke-width="1.8">&#x2212;</tspan><tspan x="299.5" y="2759.6" text-anchor="end">1</tspan></text>
<rect x="335" y="2953.9" width="2029" height="178.8" fill="none" stroke="#262626" stroke-width="3.7"/>
<line x1="647.3" y1="3132.7" x2="647.3" y2="3109.7" stroke="#262626" stroke-width="3.7"/>
<line x1="647.3" y1="2953.9" x2="647.3" y2="2976.9" stroke="#262626" stroke-width="3.7"/>
<line x1="959" y1="3132.7" x2="959" y2="3109.7" stroke="#262626" stroke-width="3.7"/>
<line x1="959" y1="2953.9" x2="959" y2="2976.9" stroke="#262626" stroke-width="3.7"/>
<line x1="1270.7" y1="3132.7" x2="1270.7" y2="3109.7" stroke="#262626" stroke-width="3.7"/>
<line x1="1270.7" y1="2953.9" x2="1270.7" y2="2976.9" stroke="#262626" stroke-width="3.7"/>
<line x1="1582.4" y1="3132.7" x2="1582.4" y2="3109.7" stroke="#262626" stroke-width="3.7"/>
<line x1="1582.4" y1="2953.9" x2="1582.4" y2="2976.9" stroke="#262626" stroke-width="3.7"/>
<line x1="1894.1" y1="3132.7" x2="1894.1" y2="3109.7" stroke="#262626" stroke-width="3.7"/>
<line x1="1894.1" y1="2953.9" x2="1894.1" y2="2976.9" stroke="#262626" stroke-width="3.7"/>
<line x1="2205.8" y1="3132.7" x2="2205.8" y2="3109.7" stroke="#262626" stroke-width="3.7"/>
<line x1="2205.8" y1="2953.9" x2="2205.8" y2="2976.9" stroke="#262626" stroke-width="3.7"/>
<line x1="335" y1="2986.1" x2="358" y2="2986.1" stroke="#262626" stroke-width="3.7"/>
<line x1="335" y1="3031.9" x2="358" y2="3031.9" stroke="#262626" stroke-width="3.7"/>
<line x1="335" y1="3077.8" x2="358" y2="3077.8" stroke="#262626" stroke-width="3.7"/>
<line x1="335" y1="3123.6" x2="358" y2="3123.6" stroke="#262626" stroke-width="3.7"/>
<path d="M335 3123 L462.7 3123 L462.7 2972.7 L1839.7 2972.7 L1839.7 3123.6 L1957 3123.6" fill="none" stroke="#000" stroke-width="6" stroke-linejoin="round"/>
<path d="M335 3123.2 L395 3123.2 L395 3123.2 L401.8 3122.6 L408.5 3121.3 L415.3 3119.6 L422.1 3117.4 L428.9 3115 L435.6 3112.2 L442.4 3109.1 L449.2 3105.7 L455.9 3102.1 L462.7 3098.2 L470 3101 L478 3109 L486.7 3123.2 L960 3123.2 L960 3123.2 L963.8 3120.6 L967.5 3113.1 L971.2 3101.2 L975 3085.6 L978.8 3067.4 L982.5 3047.9 L986.2 3028.5 L990 3010.3 L993.8 2994.7 L997.5 2982.8 L1001.2 2975.3 L1005 2972.7 L1460 2972.7 L1504 2973.5 L1540 2976 L1572 2979.9 L1617.3 2991.2 L1662.6 3004.8 L1708 3023 L1753.3 3045.6 L1798.6 3074.2 L1835 3097.7 L1857.6 3113.6 L1868 3120.5 L1878 3123.2 L1957 3123.2" fill="none" stroke="#cc0055" stroke-width="6.5" stroke-linejoin="round"/>
<path d="M377.2 3096.6 L394 3121.3 L377.2 3146 L360.4 3121.3 Z" fill="none" stroke="#cc0055" stroke-width="6" stroke-linejoin="miter" stroke-miterlimit="10"/>
<path d="M898.4 3096.6 L915.2 3121.3 L898.4 3146 L881.6 3121.3 Z" fill="none" stroke="#cc0055" stroke-width="6" stroke-linejoin="miter" stroke-miterlimit="10"/>
<path d="M1334.9 2948.1 L1351.7 2972.8 L1334.9 2997.5 L1318.1 2972.8 Z" fill="none" stroke="#cc0055" stroke-width="6" stroke-linejoin="miter" stroke-miterlimit="10"/>
<path d="M1837.3 3070.6 L1854.1 3095.3 L1837.3 3120 L1820.5 3095.3 Z" fill="none" stroke="#cc0055" stroke-width="6" stroke-linejoin="miter" stroke-miterlimit="10"/>
<circle cx="459.4" cy="3116.4" r="55.8" fill="none" stroke="#73e273" stroke-width="10.5"/>
<line x1="571.3" y1="3060.2" x2="525" y2="3090.6" stroke="#000" stroke-width="3.5"/>
<path d="M511.7 3099.6 L527.9 3078.7 Q525.9 3087.1 527.3 3089.3 Q528.7 3091.4 537.2 3092.9 Z" fill="#000"/>
<text x="612" y="3034.3" font-size="70" text-anchor="start" fill="#000">I</text>
<text x="630.5" y="3046.9" font-size="44" text-anchor="start" fill="#000">peh</text>
<text x="722.5" y="3034.3" font-size="70" text-anchor="start" fill="#000">zero</text>
<text x="574.5" y="3103.6" font-size="70" text-anchor="start" fill="#000">crossing</text>
<text transform="scale(1,1.05)" font-size="86" fill="#262626"><tspan x="303.1" y="2870.6" text-anchor="end">3</tspan></text>
<text transform="scale(1,1.05)" font-size="86" fill="#262626"><tspan x="301.1" y="3007.1" text-anchor="end">0</tspan></text>
<rect x="335" y="3211.8" width="2029" height="178.9" fill="none" stroke="#262626" stroke-width="3.7"/>
<line x1="647.3" y1="3390.7" x2="647.3" y2="3367.7" stroke="#262626" stroke-width="3.7"/>
<line x1="647.3" y1="3211.8" x2="647.3" y2="3234.8" stroke="#262626" stroke-width="3.7"/>
<line x1="959" y1="3390.7" x2="959" y2="3367.7" stroke="#262626" stroke-width="3.7"/>
<line x1="959" y1="3211.8" x2="959" y2="3234.8" stroke="#262626" stroke-width="3.7"/>
<line x1="1270.7" y1="3390.7" x2="1270.7" y2="3367.7" stroke="#262626" stroke-width="3.7"/>
<line x1="1270.7" y1="3211.8" x2="1270.7" y2="3234.8" stroke="#262626" stroke-width="3.7"/>
<line x1="1582.4" y1="3390.7" x2="1582.4" y2="3367.7" stroke="#262626" stroke-width="3.7"/>
<line x1="1582.4" y1="3211.8" x2="1582.4" y2="3234.8" stroke="#262626" stroke-width="3.7"/>
<line x1="1894.1" y1="3390.7" x2="1894.1" y2="3367.7" stroke="#262626" stroke-width="3.7"/>
<line x1="1894.1" y1="3211.8" x2="1894.1" y2="3234.8" stroke="#262626" stroke-width="3.7"/>
<line x1="2205.8" y1="3390.7" x2="2205.8" y2="3367.7" stroke="#262626" stroke-width="3.7"/>
<line x1="2205.8" y1="3211.8" x2="2205.8" y2="3234.8" stroke="#262626" stroke-width="3.7"/>
<line x1="335" y1="3243.8" x2="358" y2="3243.8" stroke="#262626" stroke-width="3.7"/>
<line x1="2364" y1="3243.8" x2="2341" y2="3243.8" stroke="#262626" stroke-width="3.7"/>
<line x1="335" y1="3289.9" x2="358" y2="3289.9" stroke="#262626" stroke-width="3.7"/>
<line x1="2364" y1="3289.9" x2="2341" y2="3289.9" stroke="#262626" stroke-width="3.7"/>
<line x1="335" y1="3336" x2="358" y2="3336" stroke="#262626" stroke-width="3.7"/>
<line x1="2364" y1="3336" x2="2341" y2="3336" stroke="#262626" stroke-width="3.7"/>
<line x1="335" y1="3381.3" x2="358" y2="3381.3" stroke="#262626" stroke-width="3.7"/>
<line x1="2364" y1="3381.3" x2="2341" y2="3381.3" stroke="#262626" stroke-width="3.7"/>
<path d="M335 3381.2 L462.5 3381.2 L462.5 3230.1 L898.2 3230.1 L898.2 3381.4 L2364 3381.4" fill="none" stroke="#ff6628" stroke-width="7.2" stroke-linejoin="round"/>
<text x="671.7" y="3293" font-size="70" text-anchor="middle" fill="#000">Shorting</text>
<text x="671.7" y="3357" font-size="70" text-anchor="middle" fill="#000">phase</text>
<text transform="scale(1,1.05)" font-size="86" fill="#262626"><tspan x="303.1" y="3112.5" text-anchor="end">3</tspan></text>
<text transform="scale(1,1.05)" font-size="86" fill="#262626"><tspan x="301.1" y="3249.1" text-anchor="end">0</tspan></text>
<text x="2197.3" y="3329.8" font-size="106" text-anchor="start" fill="#000">&#x3A6;</text>
<text x="2279.8" y="3347.2" font-size="66" text-anchor="start" fill="#000">0</text>
<rect x="335" y="3468.9" width="2029" height="176.9" fill="none" stroke="#262626" stroke-width="3.7"/>
<line x1="647.3" y1="3645.8" x2="647.3" y2="3622.8" stroke="#262626" stroke-width="3.7"/>
<line x1="647.3" y1="3468.9" x2="647.3" y2="3491.9" stroke="#262626" stroke-width="3.7"/>
<line x1="959" y1="3645.8" x2="959" y2="3622.8" stroke="#262626" stroke-width="3.7"/>
<line x1="959" y1="3468.9" x2="959" y2="3491.9" stroke="#262626" stroke-width="3.7"/>
<line x1="1270.7" y1="3645.8" x2="1270.7" y2="3622.8" stroke="#262626" stroke-width="3.7"/>
<line x1="1270.7" y1="3468.9" x2="1270.7" y2="3491.9" stroke="#262626" stroke-width="3.7"/>
<line x1="1582.4" y1="3645.8" x2="1582.4" y2="3622.8" stroke="#262626" stroke-width="3.7"/>
<line x1="1582.4" y1="3468.9" x2="1582.4" y2="3491.9" stroke="#262626" stroke-width="3.7"/>
<line x1="1894.1" y1="3645.8" x2="1894.1" y2="3622.8" stroke="#262626" stroke-width="3.7"/>
<line x1="1894.1" y1="3468.9" x2="1894.1" y2="3491.9" stroke="#262626" stroke-width="3.7"/>
<line x1="2205.8" y1="3645.8" x2="2205.8" y2="3622.8" stroke="#262626" stroke-width="3.7"/>
<line x1="2205.8" y1="3468.9" x2="2205.8" y2="3491.9" stroke="#262626" stroke-width="3.7"/>
<line x1="335" y1="3501.8" x2="358" y2="3501.8" stroke="#262626" stroke-width="3.7"/>
<line x1="2364" y1="3501.8" x2="2341" y2="3501.8" stroke="#262626" stroke-width="3.7"/>
<line x1="335" y1="3546.7" x2="358" y2="3546.7" stroke="#262626" stroke-width="3.7"/>
<line x1="2364" y1="3546.7" x2="2341" y2="3546.7" stroke="#262626" stroke-width="3.7"/>
<line x1="335" y1="3591.7" x2="358" y2="3591.7" stroke="#262626" stroke-width="3.7"/>
<line x1="2364" y1="3591.7" x2="2341" y2="3591.7" stroke="#262626" stroke-width="3.7"/>
<line x1="335" y1="3636.5" x2="358" y2="3636.5" stroke="#262626" stroke-width="3.7"/>
<line x1="2364" y1="3636.5" x2="2341" y2="3636.5" stroke="#262626" stroke-width="3.7"/>
<path d="M335 3636.3 L896.7 3636.3 L896.7 3488.4 L1395.6 3488.4 L1395.6 3636.3 L2364 3636.3" fill="none" stroke="#b447fd" stroke-width="7.4" stroke-linejoin="round"/>
<text x="1119.6" y="3554.6" font-size="70" text-anchor="middle" fill="#000">Sharing</text>
<text x="1119.6" y="3623.6" font-size="70" text-anchor="middle" fill="#000">phase</text>
<text transform="scale(1,1.05)" font-size="86" fill="#262626"><tspan x="303.1" y="3361.9" text-anchor="end">3</tspan></text>
<text transform="scale(1,1.05)" font-size="86" fill="#262626"><tspan x="301.1" y="3498.4" text-anchor="end">0</tspan></text>
<text x="2197.3" y="3584.6" font-size="106" text-anchor="start" fill="#000">&#x3A6;</text>
<text x="2279" y="3601.6" font-size="66" text-anchor="start" fill="#000">K</text>
<rect x="335" y="3727.5" width="2029" height="175.1" fill="none" stroke="#262626" stroke-width="3.7"/>
<line x1="647.3" y1="3902.6" x2="647.3" y2="3879.6" stroke="#262626" stroke-width="3.7"/>
<line x1="647.3" y1="3727.5" x2="647.3" y2="3750.5" stroke="#262626" stroke-width="3.7"/>
<line x1="959" y1="3902.6" x2="959" y2="3879.6" stroke="#262626" stroke-width="3.7"/>
<line x1="959" y1="3727.5" x2="959" y2="3750.5" stroke="#262626" stroke-width="3.7"/>
<line x1="1270.7" y1="3902.6" x2="1270.7" y2="3879.6" stroke="#262626" stroke-width="3.7"/>
<line x1="1270.7" y1="3727.5" x2="1270.7" y2="3750.5" stroke="#262626" stroke-width="3.7"/>
<line x1="1582.4" y1="3902.6" x2="1582.4" y2="3879.6" stroke="#262626" stroke-width="3.7"/>
<line x1="1582.4" y1="3727.5" x2="1582.4" y2="3750.5" stroke="#262626" stroke-width="3.7"/>
<line x1="1894.1" y1="3902.6" x2="1894.1" y2="3879.6" stroke="#262626" stroke-width="3.7"/>
<line x1="1894.1" y1="3727.5" x2="1894.1" y2="3750.5" stroke="#262626" stroke-width="3.7"/>
<line x1="2205.8" y1="3902.6" x2="2205.8" y2="3879.6" stroke="#262626" stroke-width="3.7"/>
<line x1="2205.8" y1="3727.5" x2="2205.8" y2="3750.5" stroke="#262626" stroke-width="3.7"/>
<line x1="335" y1="3759" x2="358" y2="3759" stroke="#262626" stroke-width="3.7"/>
<line x1="2364" y1="3759" x2="2341" y2="3759" stroke="#262626" stroke-width="3.7"/>
<line x1="335" y1="3804" x2="358" y2="3804" stroke="#262626" stroke-width="3.7"/>
<line x1="2364" y1="3804" x2="2341" y2="3804" stroke="#262626" stroke-width="3.7"/>
<line x1="335" y1="3849" x2="358" y2="3849" stroke="#262626" stroke-width="3.7"/>
<line x1="2364" y1="3849" x2="2341" y2="3849" stroke="#262626" stroke-width="3.7"/>
<line x1="335" y1="3894" x2="358" y2="3894" stroke="#262626" stroke-width="3.7"/>
<line x1="2364" y1="3894" x2="2341" y2="3894" stroke="#262626" stroke-width="3.7"/>
<path d="M335 3745.5 L462.4 3745.5 L462.4 3894.4 L2364 3894.4" fill="none" stroke="#65d616" stroke-width="7.4" stroke-linejoin="round"/>
<text transform="scale(1,1.05)" font-size="86" fill="#262626"><tspan x="303.1" y="3605.2" text-anchor="end">3</tspan></text>
<text transform="scale(1,1.05)" font-size="86" fill="#262626"><tspan x="301.1" y="3740.2" text-anchor="end">0</tspan></text>
<text x="2197.3" y="3845.5" font-size="106" text-anchor="start" fill="#000">&#x3A6;</text>
<text x="2279" y="3864" font-size="66" text-anchor="start" fill="#000">N</text>
<rect x="335" y="3981.9" width="2029" height="179.1" fill="none" stroke="#262626" stroke-width="3.7"/>
<line x1="647.3" y1="4161" x2="647.3" y2="4138" stroke="#262626" stroke-width="3.7"/>
<line x1="647.3" y1="3981.9" x2="647.3" y2="4004.9" stroke="#262626" stroke-width="3.7"/>
<line x1="959" y1="4161" x2="959" y2="4138" stroke="#262626" stroke-width="3.7"/>
<line x1="959" y1="3981.9" x2="959" y2="4004.9" stroke="#262626" stroke-width="3.7"/>
<line x1="1270.7" y1="4161" x2="1270.7" y2="4138" stroke="#262626" stroke-width="3.7"/>
<line x1="1270.7" y1="3981.9" x2="1270.7" y2="4004.9" stroke="#262626" stroke-width="3.7"/>
<line x1="1582.4" y1="4161" x2="1582.4" y2="4138" stroke="#262626" stroke-width="3.7"/>
<line x1="1582.4" y1="3981.9" x2="1582.4" y2="4004.9" stroke="#262626" stroke-width="3.7"/>
<line x1="1894.1" y1="4161" x2="1894.1" y2="4138" stroke="#262626" stroke-width="3.7"/>
<line x1="1894.1" y1="3981.9" x2="1894.1" y2="4004.9" stroke="#262626" stroke-width="3.7"/>
<line x1="2205.8" y1="4161" x2="2205.8" y2="4138" stroke="#262626" stroke-width="3.7"/>
<line x1="2205.8" y1="3981.9" x2="2205.8" y2="4004.9" stroke="#262626" stroke-width="3.7"/>
<line x1="335" y1="4013.9" x2="358" y2="4013.9" stroke="#262626" stroke-width="3.7"/>
<line x1="2364" y1="4013.9" x2="2341" y2="4013.9" stroke="#262626" stroke-width="3.7"/>
<line x1="335" y1="4059.7" x2="358" y2="4059.7" stroke="#262626" stroke-width="3.7"/>
<line x1="2364" y1="4059.7" x2="2341" y2="4059.7" stroke="#262626" stroke-width="3.7"/>
<line x1="335" y1="4105.8" x2="358" y2="4105.8" stroke="#262626" stroke-width="3.7"/>
<line x1="2364" y1="4105.8" x2="2341" y2="4105.8" stroke="#262626" stroke-width="3.7"/>
<line x1="335" y1="4151.5" x2="358" y2="4151.5" stroke="#262626" stroke-width="3.7"/>
<line x1="2364" y1="4151.5" x2="2341" y2="4151.5" stroke="#262626" stroke-width="3.7"/>
<path d="M335 4151.5 L897.2 4151.5 L897.2 4000.4 L2364 4000.4" fill="none" stroke="#0072bd" stroke-width="7.4" stroke-linejoin="round"/>
<text transform="scale(1,1.05)" font-size="86" fill="#262626"><tspan x="303.1" y="3845.7" text-anchor="end">3</tspan></text>
<text transform="scale(1,1.05)" font-size="86" fill="#262626"><tspan x="301.1" y="3982" text-anchor="end">0</tspan></text>
<text x="2197.3" y="4107.7" font-size="106" text-anchor="start" fill="#000">&#x3A6;</text>
<text x="2279" y="4125.1" font-size="66" text-anchor="start" fill="#000">P</text>
<line x1="462.4" y1="2803" x2="462.4" y2="3896.5" stroke="#000" stroke-width="5" stroke-dasharray="23 22"/>
<line x1="897.2" y1="2785" x2="897.2" y2="4152.7" stroke="#000" stroke-width="5" stroke-dasharray="23 22"/>
<line x1="1395.7" y1="2713.6" x2="1395.7" y2="3636" stroke="#000" stroke-width="5" stroke-dasharray="23 22"/>
<line x1="485" y1="2829.3" x2="577" y2="2829.3" stroke="#000" stroke-width="3.5"/>
<path d="M464.5 2829.3 L488.5 2820 Q482.5 2826.5 482.5 2829.3 Q482.5 2832.1 488.5 2838.6 Z" fill="#000"/>
<line x1="783.8" y1="2829.3" x2="875" y2="2829.3" stroke="#000" stroke-width="3.5"/>
<path d="M897.2 2829.3 L873.2 2838.6 Q879.2 2832.1 879.2 2829.3 Q879.2 2826.5 873.2 2820 Z" fill="#000"/>
<line x1="922" y1="2829.3" x2="1043.4" y2="2829.3" stroke="#000" stroke-width="3.5"/>
<path d="M901.3 2829.3 L925.3 2820 Q919.3 2826.5 919.3 2829.3 Q919.3 2832.1 925.3 2838.6 Z" fill="#000"/>
<line x1="1243.2" y1="2829.3" x2="1373" y2="2829.3" stroke="#000" stroke-width="3.5"/>
<path d="M1394.9 2829.3 L1370.9 2838.6 Q1376.9 2832.1 1376.9 2829.3 Q1376.9 2826.5 1370.9 2820 Z" fill="#000"/>
<text x="677" y="2846.6" font-size="69.5" text-anchor="middle" fill="#000">32 &#x3BC;s</text>
<text x="1146.4" y="2848.7" font-size="69.5" text-anchor="middle" fill="#000">32 &#x3BC;s</text>
<rect x="1956" y="2663.5" width="408.5" height="246.5" fill="#fff" stroke="#262626" stroke-width="3.6"/>
<rect x="1956" y="2919.5" width="408.5" height="251.5" fill="#fff" stroke="#262626" stroke-width="3.6"/>
<text x="1973" y="2754" font-size="103" text-anchor="start" fill="#000">V</text>
<text x="2042" y="2773.4" font-size="65" text-anchor="start" fill="#000">rec</text>
<text x="1973" y="2865.6" font-size="103" text-anchor="start" fill="#000">V</text>
<text x="2042" y="2885" font-size="65" text-anchor="start" fill="#000">peh</text>
<line x1="2150" y1="2718.1" x2="2338.1" y2="2718.1" stroke="#0000ff" stroke-width="6"/>
<path d="M2250.6 2694 L2267 2718.1 L2250.6 2742.2 L2234.2 2718.1 Z" fill="none" stroke="#0000ff" stroke-width="6" stroke-linejoin="miter" stroke-miterlimit="10"/>
<line x1="2150" y1="2830.3" x2="2338.1" y2="2830.3" stroke="#ff0000" stroke-width="6"/>
<text x="1976.6" y="3018.8" font-size="103" text-anchor="start" fill="#000">AD</text>
<text x="2116" y="3038.4" font-size="65" text-anchor="start" fill="#000">comp</text>
<text x="1976.6" y="3137.5" font-size="103" text-anchor="start" fill="#000">AD</text>
<text x="2115.5" y="3157.8" font-size="65" text-anchor="start" fill="#000">ctrl</text>
<line x1="2151.6" y1="2971.3" x2="2340" y2="2971.3" stroke="#cc0055" stroke-width="6"/>
<path d="M2252.5 2947.2 L2268.9 2971.3 L2252.5 2995.4 L2236.1 2971.3 Z" fill="none" stroke="#cc0055" stroke-width="6" stroke-linejoin="miter" stroke-miterlimit="10"/>
<line x1="2151.6" y1="3091.3" x2="2340" y2="3091.3" stroke="#000" stroke-width="6"/>
<text transform="translate(108,3414.4) rotate(-90)" font-size="96.5" text-anchor="middle" fill="#262626">Voltage (V)</text>
</svg></body></html>
